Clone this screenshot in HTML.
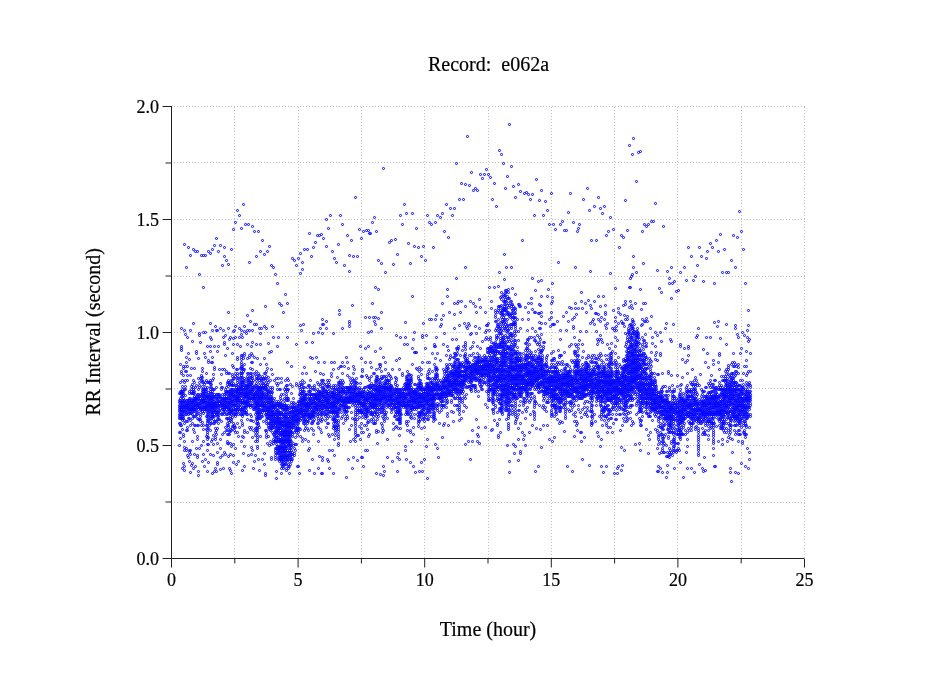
<!DOCTYPE html>
<html><head><meta charset="utf-8">
<style>
html,body{margin:0;padding:0;background:#fff;}
body{width:949px;height:697px;overflow:hidden;position:relative;}
svg{position:absolute;left:0;top:0;will-change:transform;}
text{font-family:"Liberation Serif",serif;fill:#000;stroke:#000;stroke-width:0.2px;}
</style></head><body>
<svg width="949" height="697" viewBox="0 0 949 697">
<path d="M234.5 107V558M298.5 107V558M361.5 107V558M424.5 107V558M488.5 107V558M551.5 107V558M614.5 107V558M677.5 107V558M741.5 107V558M804.5 107V558M171 502.5H805M171 445.5H805M171 388.5H805M171 332.5H805M171 276.5H805M171 219.5H805M171 162.5H805M171 106.5H805" stroke="#c0c0c0" stroke-width="1" stroke-dasharray="1 2" fill="none"/>
<defs><marker id="o" markerUnits="userSpaceOnUse" markerWidth="1" markerHeight="1" overflow="visible"><circle cx="0" cy="0" r="1.05" fill="none" stroke="#00f" stroke-width="1.0" stroke-opacity="1"/></marker></defs><path d="M179.5 393.5l0 7 0 2 0 3 0 2 0 2 0 2 0 3 0 2 0 2 0 5 0 9 0 13 1-7 0-6 0-7 0-2 0-5 0-2 0-2 0-3 0-2 0-2 0-2 0-3 0-2 0-2 0-5 0-2 0-9 0-18 1-36 0 18 0 2 0 2 0 21 0 2 0 18 0 2 0 3 0 6 0 3 0 2 0 2 0 2 0 3 0 4 0 7 1 43 0-39 0-9 0-2 0-2 0-2 0-3 0-4 0-2 0-3 0-2 0-4 0-3 0-2 0-2 0-3 0-6 1-14 0 2 0 7 0 16 0 2 0 2 0 3 0 2 0 2 0 3 0 2 0 2 0 2 0 3 0 2 0 2 0 16 0 2 0 27 1 7 0-4 0-16 0-3 0-6 0-18 0-3 0-9 0-2 0-2 0-2 0-3 0-2 0-11 0-7 0-52 0-86 1 90 0 32 0 5 0 9 0 6 0 3 0 6 0 7 0 3 0 2 0 4 0 3 1 36 0-2 0-18 0-9 0-7 0-2 0-3 0-2 0-2 0-2 0-3 0-29 0-9 0-5 0-90 1 70 0 29 0 9 0 5 0 20 0 3 0 2 0 2 0 2 0 3 0 9 0 6 0 3 0 25 1 2 0-39 0-4 0-5 0-2 0-2 0-2 0-3 0-47 0-106 1 112 0 32 0 2 0 5 0 2 0 2 0 2 0 3 0 2 0 2 0 2 0 5 0 32 0 2 0 9 1 11 0-18 0-4 0-25 0-5 0-7 0-2 0-2 0-2 0-3 0-2 0-4 0-23 0-45 0-75 1 113 0 18 0 3 0 2 0 2 0 7 0 2 0 2 0 3 0 2 0 4 0 52 1-2 0-22 0-18 0-5 0-4 0-3 0-2 0-2 0-2 0-3 0-2 0-7 0-9 0-43 1-92 0 74 0 57 0 7 0 2 0 2 0 2 0 5 0 2 0 2 0 3 0 2 0 2 0 2 0 5 0 13 0 39 1-14 0-22 0-7 0-9 0-5 0-2 0-2 0-2 0-3 0-2 0-2 0-2 0-3 0-2 0-9 0-14 1-117 0 136 0 11 0 2 0 3 0 2 0 2 0 2 0 7 0 9 0 41 1-18 0-34 0-2 0-3 0-4 0-2 0-3 0-2 0-2 0-11 0-32 0-2 1-100 0 143 0 2 0 2 0 2 0 3 0 2 0 2 0 5 0 2 0 4 0 7 0 11 0 3 0 16 0 2 1 18 0-4 0-46 0-6 0-10 0-2 0-2 0-2 0-5 0-4 0-5 0-11 0-20 1-84 0 59 0 2 0 47 0 3 0 2 0 9 0 4 0 3 0 2 0 2 0 12 0 29 1-27 0-2 0-3 0-2 0-2 0-3 0-2 0-4 0-3 0-2 0-2 0-2 0-16 0-36 1-87 0 120 0 2 0 3 0 15 0 5 0 2 0 2 0 3 0 2 0 16 0 20 1 16 0-39 0-11 0-2 0-2 0-3 0-2 0-2 0-2 0-3 0-2 0-2 0-2 0-3 0-4 0-2 0-3 0-6 0-3 1-113 0 32 0 45 0 50 0 7 0 2 0 2 0 2 0 3 0 2 0 2 0 5 0 6 0 12 0 4 0 12 0 13 1 12 0-55 0-2 0-2 0-2 0-3 0-2 0-2 0-2 0-3 0-4 0-5 0-31 1-98 0 77 0 25 0 25 0 5 0 2 0 2 0 2 0 3 0 4 0 2 0 3 0 2 0 2 0 50 1-23 0-7 0-4 0-9 0-7 0-2 0-2 0-3 0-4 0-2 0-5 0-2 0-9 0-7 1-27 0 36 0 5 0 7 0 2 0 2 0 3 0 2 0 2 0 2 0 3 0 2 0 2 0 2 0 3 0 2 0 2 0 2 0 3 0 2 0 2 0 2 0 3 0 2 0 5 0 6 0 21 1-9 0-18 0-7 0-9 0-7 0-2 0-3 0-2 0-2 0-2 0-3 0-2 0-2 0-2 0-3 0-2 0-2 0-2 0-10 0-20 0-2 0-109 1 131 0 14 0 2 0 3 0 2 0 2 0 2 0 3 0 15 1 29 0-24 0-7 0-2 0-3 0-2 0-4 0-3 0-2 0-2 0-2 0-3 0-2 0-2 0-3 0-2 0-2 0-2 0-3 0-2 0-2 0-29 0-5 0-9 0-14 0-70 1 86 0 23 0 22 0 3 0 6 0 3 0 2 0 2 0 3 0 2 0 2 0 2 0 3 0 2 0 2 0 2 0 5 0 18 1 32 0-34 0-23 0-2 0-2 0-3 0-2 0-2 0-2 0-3 0-2 0-2 0-3 0-2 0-2 0-9 0-18 0-5 0-27 0-81 1 125 0 4 0 11 0 7 0 2 0 3 0 2 0 2 0 2 0 3 0 2 0 4 0 3 0 4 0 12 0 9 0 11 1 16 0-48 0-2 0-5 0-2 0-4 0-3 0-2 0-2 0-2 0-5 0-2 0-5 0-20 0-2 0-21 0-101 1 81 0 70 0 2 0 5 0 2 0 2 0 3 0 2 0 9 0 7 0 4 0 5 0 2 0 29 1 3 0-37 0-4 0-9 0-7 0-2 0-2 0-3 0-2 0-2 0-2 0-3 0-4 0-7 0-57 0-92 1 92 0 21 0 43 0 4 0 3 0 2 0 2 0 2 0 5 0 2 0 2 0 3 0 9 0 15 0 9 0 10 0 2 1-41 0-4 0-3 0-2 0-2 0-2 0-3 0-2 0-4 0-3 0-2 0-2 0-48 0-95 1 118 0 25 0 2 0 5 0 2 0 2 0 5 0 9 1 50 0-12 0-9 0-9 0-27 0-4 0-3 0-4 0-3 0-2 0-13 0-55 0-83 1 129 0 13 0 2 0 9 0 3 0 2 0 2 0 9 0 7 1 34 0-21 0-20 0-5 0-2 0-2 0-2 0-3 0-2 0-4 0-7 0-18 0-104 1 65 0 7 0 61 0 2 0 3 0 2 0 2 0 2 0 3 0 56 1-16 0-20 0-18 0-2 0-3 0-2 0-2 0-2 0-3 0-2 0-2 0-2 0-25 0-25 0-2 0-86 0-9 1 88 0 20 0 34 0 2 0 2 0 5 0 2 0 2 0 3 0 2 0 4 0 16 0 27 1-24 0-12 0-4 0-5 0-2 0-2 0-3 0-2 0-2 0-2 0-3 0-2 0-4 0-14 0-2 0-111 1 88 0 34 0 2 0 7 0 7 0 4 0 3 0 2 0 7 0 4 0 5 0 2 0 5 0 4 0 7 0 2 1 13 0-13 0-9 0-7 0-2 0-5 0-2 0-5 0-2 0-2 0-2 0-3 0-2 0-4 0-3 0-2 0-2 0-5 0-4 0-2 0-7 0-45 0-16 0-48 1 75 0 34 0 9 0 2 0 7 0 2 0 2 0 3 0 2 0 2 0 2 0 3 0 2 0 2 0 2 0 9 0 9 0 3 0 34 1 2 0-16 0-11 0-12 0-2 0-9 0-2 0-2 0-3 0-2 0-2 0-2 0-3 0-2 0-2 0-2 0-3 0-2 0-2 0-2 0-5 0-47 1-88 0 131 0 3 0 2 0 4 0 3 0 2 0 2 0 3 0 2 0 4 0 3 0 2 0 2 0 2 0 5 0 2 0 9 0 16 0 27 1-45 0-2 0-9 0-5 0-2 0-5 0-2 0-2 0-2 0-3 0-2 0-2 0-3 0-4 0-5 0-4 0-2 0-9 0-12 1-124 0 102 0 7 0 6 0 23 0 11 0 5 0 2 0 4 0 3 0 2 0 2 0 5 0 2 0 2 0 3 0 2 0 4 0 9 0 3 0 18 0 11 0 7 1-32 0-3 0-2 0-11 0-5 0-4 0-5 0-2 0-2 0-5 0-13 0-48 1-108 0 104 0 11 0 36 0 3 0 9 0 4 0 2 0 3 0 2 0 2 0 2 0 3 0 2 0 2 0 2 0 3 0 2 0 2 0 11 0 5 0 16 1 16 0-50 0-2 0-3 0-4 0-2 0-3 0-2 0-2 0-2 0-3 0-2 0-2 0-2 0-16 1-159 0 134 0 13 0 2 0 10 0 4 0 2 0 3 0 2 0 2 0 7 0 2 0 2 0 3 0 2 0 2 0 2 0 5 0 2 0 2 0 12 0 9 1 29 0-25 0-22 0-5 0-2 0-2 0-3 0-2 0-2 0-2 0-3 0-2 0-2 0-2 0-3 0-6 1-163 0 113 0 9 0 50 0 2 0 4 0 3 0 2 0 2 0 5 0 6 0 16 1-13 0-5 0-2 0-3 0-2 0-2 0-5 0-2 0-2 0-2 0-3 0-2 0-2 0-2 0-3 0-4 0-5 0-22 1-118 0 102 0 4 0 21 0 2 0 2 0 3 0 2 0 2 0 2 0 3 0 2 0 2 0 2 0 3 0 2 0 2 0 2 0 3 0 2 0 2 0 2 0 3 0 4 0 7 0 2 0 3 0 6 0 21 1 29 0-34 0-11 0-2 0-7 0-2 0-3 0-2 0-2 0-3 0-2 0-2 0-7 0-4 0-3 0-2 0-2 0-5 0-4 0-5 0-2 0-11 0-18 1-133 0 154 0 11 0 2 0 9 0 2 0 5 0 2 0 3 0 2 0 2 0 2 0 3 0 2 0 4 0 3 0 4 0 23 0 16 1 13 0-20 0-14 0-2 0-18 0-2 0-3 0-4 0-2 0-3 0-2 0-2 0-2 0-3 0-4 0-3 0-2 0-2 0-9 0-5 0-9 0-2 0-22 0-5 1-102 0 161 0 2 0 2 0 3 0 2 0 2 0 5 0 2 0 2 0 2 0 5 1 2 0-2 0-2 0-3 0-2 0-2 0-2 0-3 0-2 0-2 0-2 0-3 0-2 0-2 0-52 1-18 0 15 0 14 0 14 0 15 0 3 0 2 0 2 0 2 0 3 0 2 0 2 0 3 0 2 0 2 0 2 0 3 0 2 0 2 0 9 0 5 0 13 1 23 0-50 0-2 0-2 0-3 0-2 0-2 0-2 0-3 0-2 0-2 0-3 0-2 0-2 0-5 0-149 1 38 0 68 0 25 0 2 0 23 0 4 0 2 0 5 0 2 0 2 0 3 0 2 0 2 0 3 0 22 1 2 0-9 0-6 0-7 0-2 0-7 0-3 0-2 0-2 0-2 0-3 0-2 0-2 0-5 0-2 0-2 0-5 0-47 1 25 0 7 0 9 0 11 0 4 0 3 0 2 0 2 0 5 0 2 0 2 0 5 0 2 0 5 0 11 0 4 0 7 0 20 0 7 1-4 0-13 0-32 0-2 0-5 0-2 0-2 0-3 0-2 0-2 0-2 0-3 0-4 0-2 0-7 0-7 0-7 0-13 0-12 0-20 0-84 1 154 0 7 0 2 0 5 0 2 0 2 0 2 0 7 0 2 0 12 0 9 0 38 1-7 0-52 0-2 0-4 0-3 0-2 0-2 0-2 0-3 0-4 0-14 0-16 0-33 0-93 1 143 0 11 0 7 0 2 0 2 0 2 0 3 0 2 0 2 0 2 0 7 0 14 0 4 0 3 0 6 0 14 1-25 0-2 0-5 0-4 0-2 0-5 0-2 0-3 0-2 0-2 0-2 0-3 0-4 0-2 0-3 0-2 0-2 0-2 0-3 0-2 0-2 0-5 0-27 0-20 0-68 1 102 0 20 0 9 0 2 0 3 0 2 0 2 0 2 0 3 0 2 0 2 0 2 0 3 0 2 0 2 0 3 0 2 0 2 0 2 0 3 0 2 0 2 0 2 0 3 0 2 0 2 0 2 0 5 0 2 1 11 0-34 0-2 0-5 0-2 0-2 0-2 0-3 0-2 0-2 0-2 0-3 0-2 0-2 0-2 0-3 0-2 0-2 0-9 0-3 0-2 0-142 1 97 0 47 0 5 0 2 0 3 0 2 0 2 0 2 0 3 0 2 0 2 0 2 0 3 0 2 0 4 0 3 0 2 0 2 0 2 0 9 0 43 1-34 0-18 0-6 0-3 0-4 0-2 0-3 0-2 0-2 0-2 0-3 0-2 0-2 0-9 0-14 0-20 0-11 0-82 1 77 0 50 0 2 0 5 0 2 0 2 0 3 0 2 0 2 0 2 0 3 0 4 0 5 0 4 0 2 1 43 0-43 0-4 0-2 0-3 0-2 0-2 0-2 0-3 0-2 0-2 0-2 0-3 0-2 0-4 0-3 0-4 0-136 1 138 0 5 0 2 0 2 0 5 0 2 0 2 0 2 0 3 0 2 0 2 0 2 0 3 0 11 1 43 0-11 0-43 0-3 0-2 0-2 0-5 0-4 0-5 0-2 0-9 0-5 0-15 0-32 0-72 1 52 0 67 0 5 0 2 0 3 0 2 0 2 0 2 0 7 0 2 0 3 0 4 0 2 0 3 0 4 0 16 0 43 0 2 1-38 0-2 0-3 0-2 0-7 0-2 0-2 0-3 0-2 0-2 0-2 0-3 0-2 0-2 0-2 0-3 0-2 0-2 0-2 0-3 0-4 0-9 0-5 0-7 0-36 1-77 0 117 0 12 0 4 0 2 0 3 0 2 0 2 0 2 0 3 0 4 0 5 0 2 0 2 0 3 0 2 0 2 0 25 1-7 0-9 0-2 0-2 0-5 0-4 0-3 0-2 0-2 0-3 0-2 0-2 0-2 0-3 0-2 0-2 0-9 0-5 0-34 1-97 0 106 0 39 0 7 0 2 0 2 0 2 0 3 0 2 0 2 0 3 0 2 0 2 0 5 0 4 0 2 0 16 1-4 0-11 0-2 0-3 0-2 0-2 0-2 0-3 0-2 0-2 0-2 0-3 0-2 0-2 0-2 0-3 0-2 0-4 0-3 0-2 0-7 1-115 0 86 0 18 0 23 0 2 0 2 0 2 0 3 0 2 0 2 0 2 0 3 0 2 0 2 0 2 0 3 0 2 0 2 0 2 0 3 0 16 0 13 0 2 1-27 0-4 0-3 0-4 0-2 0-3 0-2 0-2 0-2 0-3 0-2 0-4 0-3 0-6 0-3 0-2 0-13 0-48 1-59 0 70 0 63 0 3 0 2 0 2 0 2 0 3 0 2 0 2 0 2 0 3 0 2 0 2 0 2 0 7 0 5 0 2 0 2 1-2 0-5 0-2 0-2 0-5 0-4 0-2 0-3 0-4 0-2 0-5 0-2 0-2 0-5 0-18 1-106 0 131 0 2 0 2 0 5 0 2 0 2 0 3 0 2 0 2 0 5 0 2 0 4 0 3 0 2 0 7 0 2 0 2 0 3 0 2 0 2 1 19 0-7 0-18 0-5 0-4 0-3 0-2 0-2 0-2 0-3 0-2 0-2 0-2 0-3 0-2 0-2 0-2 0-3 0-2 0-2 0-5 0-2 0-2 0-18 0-5 1-95 0 63 0 39 0 4 0 14 0 2 0 2 0 3 0 2 0 2 0 3 0 2 0 2 0 2 0 3 0 2 0 2 0 2 0 5 0 4 0 5 0 2 0 2 0 3 1 6 0-2 0-4 0-3 0-2 0-2 0-5 0-2 0-4 0-3 0-2 0-2 0-2 0-3 0-2 0-2 0-2 0-3 0-2 0-2 0-5 0-2 0-2 0-18 0-5 0-41 1-34 0 86 0 14 0 2 0 2 0 5 0 2 0 2 0 2 0 3 0 2 0 2 0 3 0 6 0 5 0 2 0 5 0 2 0 2 0 2 0 3 0 2 0 2 0 2 1-2 0-2 0-2 0-3 0-2 0-2 0-2 0-3 0-2 0-2 0-2 0-3 0-2 0-2 0-2 0-3 0-2 0-2 0-3 0-4 0-2 0-5 0-2 0-2 0-5 0-2 0-7 1-84 0 73 0 4 0 12 0 6 0 3 0 2 0 2 0 5 0 2 0 4 0 3 0 2 0 2 0 3 0 4 0 2 0 5 0 2 0 2 0 3 0 2 0 4 0 3 0 2 0 2 0 2 0 3 0 4 0 5 1-7 0-2 0-3 0-2 0-2 0-2 0-3 0-2 0-2 0-2 0-3 0-2 0-2 0-3 0-2 0-2 0-2 0-3 0-2 0-2 0-2 0-7 0-5 0-2 0-2 1-93 0 82 0 11 0 4 0 3 0 2 0 2 0 2 0 3 0 4 0 5 0 2 0 2 0 2 0 3 0 2 0 2 0 3 0 2 0 2 0 2 0 3 0 2 0 2 0 2 0 3 0 2 0 2 1-4 0-7 0-2 0-3 0-2 0-2 0-2 0-3 0-2 0-2 0-3 0-2 0-2 0-2 0-3 0-2 0-2 0-2 0-3 0-2 0-7 0-2 0-2 0-2 0-3 0-2 0-9 1-95 0 86 0 7 0 4 0 14 0 2 0 2 0 3 0 2 0 2 0 2 0 3 0 2 0 2 0 2 0 3 0 2 0 2 0 2 0 3 0 2 0 2 0 3 0 2 0 2 0 2 0 3 0 2 0 2 0 2 0 3 1 6 0-2 0-4 0-3 0-2 0-2 0-2 0-3 0-4 0-2 0-5 0-2 0-3 0-2 0-2 0-2 0-3 0-2 0-2 0-2 0-3 0-2 0-2 0-2 0-3 0-2 0-2 0-5 0-2 0-2 0-2 0-5 0-4 1-82 0 34 0 25 0 16 0 7 0 4 0 2 0 7 0 2 0 7 0 2 0 9 0 3 0 2 0 2 0 2 0 3 0 2 0 2 0 2 0 3 0 2 0 2 0 3 0 4 0 5 0 2 0 2 1 9 0-2 0-2 0-5 0-4 0-3 0-7 0-2 0-2 0-2 0-3 0-2 0-2 0-2 0-3 0-2 0-2 0-2 0-3 0-2 0-2 0-2 0-3 0-2 0-2 0-5 0-2 0-9 0-9 1 32 0 2 0 4 0 3 0 2 0 2 0 2 0 3 0 2 0 2 0 2 0 3 0 2 0 2 0 2 0 3 0 2 0 2 0 3 0 2 0 4 0 5 0 7 1-9 0-5 0-2 0-2 0-3 0-4 0-3 0-2 0-2 0-2 0-3 0-2 0-2 0-2 0-3 0-2 0-2 0-2 0-5 0-4 0-5 0-23 1-18 0 27 0 9 0 2 0 3 0 2 0 2 0 2 0 3 0 2 0 2 0 3 0 2 0 2 0 2 0 3 0 9 0 4 0 2 0 3 0 4 0 5 0 2 1-2 0-3 0-2 0-2 0-16 0-2 0-2 0-5 0-4 0-3 0-2 0-2 0-3 0-2 0-4 0-21 0-128 1 140 0 4 0 2 0 3 0 2 0 2 0 2 0 3 0 2 0 2 0 3 0 2 0 2 0 16 0 2 1 10 0-2 0-5 0-16 0-7 0-2 0-2 0-2 0-3 0-2 0-2 0-2 0-3 0-2 0-2 0-143 1 147 0 3 0 2 0 2 0 2 0 3 0 2 0 7 0 2 0 7 0 7 0 6 1-6 0-12 0-2 0-2 0-3 0-4 0-2 0-3 0-2 0-4 0-3 0-22 0-2 0-39 0-79 1 138 0 2 0 3 0 2 0 2 0 2 0 3 0 2 0 2 0 2 0 3 0 2 0 2 0 5 0 31 1 0 0-34 0-2 0-2 0-5 0-2 0-2 0-2 0-3 0-2 0-2 0-2 0-3 0-4 0-143 1 127 0 2 0 7 0 7 0 2 0 2 0 5 0 2 0 2 0 3 0 2 0 9 0 45 1-37 0-7 0-9 0-7 0-2 0-2 0-2 0-3 0-2 0-2 0-2 0-3 0-2 0-2 0-2 0-7 0-57 0-52 0-20 1 77 0 54 0 2 0 7 0 5 0 2 0 2 0 2 0 3 0 2 0 2 0 2 0 3 0 2 1 23 0-3 0-22 0-3 0-2 0-2 0-2 0-3 0-2 0-2 0-2 0-3 0-2 0-2 0-2 0-5 0-4 0-7 0-104 0-7 1 62 0 63 0 4 0 5 0 2 0 2 0 3 0 2 0 5 0 2 0 2 0 2 0 3 0 2 0 2 1 7 0-7 0-2 0-2 0-3 0-2 0-4 0-3 0-2 0-2 0-3 0-2 0-2 0-2 0-3 0-4 0-5 0-15 0-118 1 145 0 2 0 2 0 2 0 3 0 2 0 2 0 3 0 2 0 2 0 2 0 3 0 6 0 3 0 11 1-18 0-7 0-2 0-2 0-3 0-2 0-2 0-2 0-3 0-4 0-21 0-31 1-93 0 138 0 7 0 9 0 2 0 2 0 3 0 2 0 2 0 2 0 3 0 2 0 2 0 5 1 22 0-9 0-11 0-9 0-5 0-2 0-4 0-3 0-2 0-2 0-2 0-3 0-7 0-6 1-152 0 152 0 6 0 3 0 2 0 2 0 2 0 3 0 2 0 2 0 2 0 5 0 2 0 2 0 30 0 22 1-52 0-2 0-2 0-2 0-5 0-2 0-2 0-3 0-2 0-4 0-3 0-2 0-2 0-7 0-23 1-101 0 138 0 2 0 4 0 3 0 2 0 4 0 3 0 2 0 2 0 2 0 5 0 5 1 31 0-36 0-2 0-5 0-2 0-2 0-2 0-3 0-4 0-2 0-3 0-4 0-7 0-29 0-16 1-95 0 86 0 56 0 5 0 4 0 3 0 2 0 4 0 3 0 2 0 2 0 2 0 5 0 9 0 4 1 39 0-54 0-3 0-2 0-2 0-2 0-3 0-2 0-2 0-2 0-3 0-2 0-2 0-5 0-2 0-2 1-143 0 129 0 23 0 2 0 2 0 2 0 3 0 2 0 2 0 2 0 3 1-3 0-2 0-2 0-2 0-5 0-2 0-2 0-3 0-34 1-122 0 147 0 7 0 5 0 2 0 2 0 2 0 3 0 2 0 2 0 2 0 3 0 2 0 2 0 7 1 45 0-27 0-14 0-4 0-3 0-2 0-4 0-3 0-2 0-4 0-3 0-2 0-2 0-3 0-2 0-2 0-7 0-22 0-30 1-97 0 156 0 2 0 2 0 3 0 2 0 2 0 3 0 2 0 49 1-27 0-9 0-6 0-3 0-2 0-2 0-2 0-3 0-2 0-2 0-3 0-2 0-2 0-5 0-2 0-11 0-45 1-94 0 146 0 3 0 9 0 2 0 2 0 3 0 4 0 2 0 3 0 2 0 2 0 2 0 3 0 4 0 11 0 41 1 0 0-13 0-3 0-38 0-5 0-2 0-4 0-3 0-2 0-2 0-5 0-2 0-2 0-3 0-2 0-7 0-47 0-9 0-5 1-81 0 86 0 50 0 6 0 3 0 4 0 2 0 3 0 2 0 2 0 3 0 2 0 2 0 2 0 3 1 6 0-3 0-4 0-2 0-5 0-2 0-2 0-5 0-2 0-5 0-22 1 29 0 2 0 3 0 2 0 2 0 2 0 3 0 2 0 4 0 3 0 2 0 4 1 7 0-13 0-5 0-2 0-2 0-3 0-2 0-2 0-2 0-3 0-2 0-5 0-2 0-56 0-7 0-75 0-27 1 161 0 6 0 3 0 4 0 2 0 3 0 2 0 2 0 2 0 3 0 2 0 4 0 5 0 5 0 36 1 2 0-27 0-11 0-7 0-3 0-2 0-4 0-3 0-2 0-2 0-2 0-3 0-2 0-2 0-5 0-4 0-154 1 152 0 4 0 2 0 9 0 3 0 2 0 2 0 2 0 3 0 2 0 2 0 25 0 14 0 18 1-52 0-4 0-5 0-2 0-2 0-2 0-5 0-4 0-3 0-174 1 147 0 11 0 3 0 11 0 5 0 2 0 2 0 2 0 5 0 2 0 2 0 3 0 2 1 38 0-16 0-15 0-7 0-2 0-3 0-2 0-2 0-2 0-3 0-2 0-2 0-2 0-141 1 82 0 36 0 16 0 2 0 2 0 3 0 2 0 2 0 2 0 3 0 2 0 2 0 2 0 3 0 2 0 2 0 3 0 2 0 4 0 3 0 2 0 45 1-18 0-16 0-13 0-5 0-2 0-2 0-5 0-2 0-3 0-2 0-2 0-2 0-3 0-2 0-2 0-2 0-3 0-27 0-104 1 127 0 2 0 7 0 2 0 2 0 3 0 2 0 2 0 2 0 3 0 2 0 2 0 5 0 2 0 2 0 3 0 2 0 2 0 2 0 3 1-6 0-2 0-5 0-2 0-4 0-3 0-2 0-4 0-3 0-2 0-2 0-2 0-3 0-2 0-2 0-2 0-127 1 115 0 12 0 6 0 3 0 2 0 2 0 5 0 2 0 2 0 2 0 3 0 9 1 20 0-2 0-5 0-2 0-2 0-3 0-2 0-2 0-2 0-3 0-2 0-4 0-3 0-2 0-2 0-5 0-2 0-2 0-2 0-3 0-2 0-2 0-2 0-3 0-2 0-2 0-14 0-124 1 66 0 4 0 68 0 2 0 3 0 4 0 2 0 3 0 2 0 2 0 3 0 4 0 2 1 0 0-2 0-2 0-5 0-2 0-2 0-3 0-2 0-4 0-5 0-2 0-14 0-151 1 151 0 18 0 5 0 2 0 5 0 2 0 2 0 3 0 2 0 7 0 6 1-2 0-11 0-3 0-2 0-4 0-3 0-2 0-2 0-2 0-3 0-4 0-7 0-11 0-34 0-104 1 158 0 5 0 2 0 2 0 2 0 5 0 2 0 2 0 3 0 2 0 2 0 14 1-9 0-3 0-2 0-2 0-2 0-3 0-2 0-2 0-7 0-25 0-101 1 122 0 2 0 2 0 2 0 3 0 2 0 2 0 2 0 3 0 2 0 4 0 7 0 2 1 57 0-63 0-3 0-2 0-2 0-2 0-3 0-2 0-2 0-2 0-3 0-6 0-30 1-122 0 127 0 13 0 12 0 2 0 2 0 2 0 5 0 2 0 2 0 5 0 4 0 5 0 2 1 41 0-52 0-5 0-2 0-2 0-2 0-5 0-2 0-2 0-19 1-113 0 16 0 50 0 2 0 3 0 51 0 10 0 2 0 2 0 2 0 3 0 2 0 2 0 2 0 5 0 22 1 12 0-39 0-2 0-2 0-2 0-3 0-2 0-2 0-2 0-3 0-4 1-140 0 142 0 5 0 2 0 4 0 3 0 2 0 2 0 12 0 13 1 43 0-50 0-13 0-3 0-2 0-2 0-2 0-3 0-2 0-4 0-3 0-6 0-73 1-49 0 110 0 7 0 7 0 9 0 2 0 2 0 3 0 2 0 2 0 2 0 37 0 18 1-38 0-16 0-2 0-3 0-2 0-2 0-2 0-3 0-2 0-2 0-3 0-2 0-11 1-172 0 185 0 3 0 2 0 2 0 3 0 2 0 2 0 2 0 3 0 4 0 2 0 3 0 2 0 2 0 2 0 3 0 2 0 2 0 2 0 3 0 2 0 2 0 2 0 3 0 4 1-38 0-2 0-3 0-2 0-2 0-5 0-2 0-5 0-4 1-122 0 127 0 9 0 2 0 2 0 3 0 2 0 4 0 3 0 2 0 2 0 2 0 5 0 16 0 25 1-25 0-25 0-7 0-2 0-2 0-3 0-2 0-2 0-3 1-160 0 158 0 2 0 3 0 2 0 2 0 3 0 2 0 2 0 2 0 3 0 2 0 2 0 5 0 9 1 13 0-27 0-2 0-7 0-2 0-3 0-2 0-2 0-2 0-9 0-37 1-108 0 120 0 18 0 13 0 3 0 2 0 2 0 2 0 5 0 2 0 2 0 3 0 2 0 11 0 5 0 4 0 25 1 0 0-40 0-3 0-2 0-2 0-5 0-2 0-2 0-5 0-2 0-2 0-16 0-5 0-2 1-138 0 158 0 2 0 2 0 3 0 2 0 2 0 3 0 2 0 2 0 5 0 20 0 34 1-41 0-11 0-5 0-2 0-2 0-2 0-3 0-2 0-2 0-3 0-2 0-4 1-70 0 31 0 14 0 25 0 9 0 2 0 2 0 3 0 2 0 4 0 3 0 2 0 2 0 2 0 32 1-25 0-9 0-3 0-2 0-2 0-2 0-3 0-2 0-2 0-2 0-3 0-2 0-18 0-145 1 147 0 9 0 5 0 2 0 2 0 3 0 2 0 7 0 2 0 2 0 2 0 3 0 6 0 7 0 21 1-14 0-14 0-2 0-9 0-2 0-2 0-5 0-2 0-2 0-3 0-2 0-4 0-3 0-40 0-14 0-102 1 3 0 84 0 61 0 2 0 5 0 2 0 5 0 4 0 2 0 5 0 2 0 29 1-20 0-2 0-2 0-3 0-2 0-2 0-2 0-3 0-2 0-2 0-2 0-5 0-2 0-23 0-129 1 98 0 36 0 9 0 7 0 4 0 2 0 3 0 2 0 2 0 2 0 3 0 2 0 2 0 2 0 5 0 2 0 5 0 2 1-7 0-2 0-5 0-2 0-2 0-3 0-4 0-2 0-7 0-2 0-82 0-81 1 95 0 56 0 12 0 4 0 2 0 3 0 2 0 2 0 2 0 3 0 2 0 2 0 9 0 3 0 4 1 0 0-9 0-2 0-3 0-2 0-2 0-2 0-3 0-2 0-2 0-2 0-5 0-4 0-12 0-52 0-104 1 70 0 30 0 7 0 27 0 29 0 2 0 3 0 2 0 2 0 2 0 3 0 2 0 2 0 2 0 3 0 2 0 2 0 5 0 9 0 2 1 50 0-41 0-2 0-14 0-4 0-3 0-4 0-2 0-3 0-2 0-2 0-2 0-3 0-2 0-2 0-5 0-2 0-2 0-2 0-7 0-138 1 145 0 2 0 2 0 5 0 2 0 2 0 2 0 3 0 2 0 2 0 2 0 3 0 2 0 2 0 2 0 5 0 5 0 24 1-12 0-15 0-16 0-2 0-3 0-2 0-2 0-2 0-3 0-2 0-5 0-61 0-29 0-29 1 104 0 4 0 14 0 4 0 3 0 2 0 2 0 2 0 3 0 2 0 2 0 2 0 3 0 2 0 2 0 2 1 61 0-65 0-5 0-2 0-2 0-2 0-3 0-2 0-2 0-2 0-3 0-2 0-2 0-3 0-13 0-2 0-16 1-85 0 49 0 16 0 43 0 5 0 2 0 7 0 2 0 2 0 2 0 3 0 2 0 2 0 2 0 3 0 2 0 2 0 5 0 11 1 9 0-4 0-3 0-9 0-4 0-3 0-2 0-7 0-2 0-2 0-2 0-3 0-4 0-9 1-210 0 189 0 19 0 6 0 3 0 2 0 2 0 2 0 3 0 2 0 2 0 5 0 2 0 2 0 2 0 9 0 12 0 36 0 9 1-4 0-50 0-2 0-5 0-2 0-2 0-5 0-2 0-2 0-3 0-2 0-2 0-2 0-3 0-2 0-2 0-2 0-7 1-104 0 90 0 7 0 11 0 3 0 4 0 2 0 3 0 2 0 2 0 2 0 3 0 13 0 2 1-4 0-5 0-4 0-2 0-3 0-2 0-4 0-3 0-2 0-2 0-2 0-3 0-2 0-2 1 4 0 2 0 2 0 3 0 2 0 5 0 2 0 2 0 2 0 3 0 2 0 13 0 21 0 18 1-52 0-5 0-4 0-2 0-3 0-2 0-2 0-7 0-7 1-131 0 133 0 5 0 2 0 2 0 3 0 2 0 2 0 3 0 2 0 2 0 2 0 3 0 2 0 2 1-2 0-2 0-3 0-2 0-2 0-2 0-3 0-2 0-2 0-2 0-9 1-136 0 138 0 7 0 2 0 2 0 2 0 3 0 2 0 2 0 2 0 3 0 4 0 2 0 3 1 49 0-52 0-4 0-2 0-3 0-2 0-2 0-2 0-3 0-2 0-2 0-18 1-105 0 129 0 2 0 5 0 2 0 2 0 3 0 16 0 6 1-13 0-9 0-3 0-4 0-2 0-3 0-2 0-2 0-2 1-150 0 138 0 5 0 2 0 5 0 2 0 2 0 5 0 2 0 2 0 2 0 3 0 2 0 2 0 3 0 2 0 11 1-1 0-7 0-7 0-5 0-2 0-2 0-2 0-3 0-2 0-2 0-2 0-3 0-2 0-7 0-2 0-18 0-25 1-81 0 131 0 4 0 3 0 4 0 2 0 3 0 2 0 4 0 3 0 2 0 2 0 5 0 38 0 14 1-18 0-25 0-9 0-3 0-4 0-2 0-3 0-2 0-2 0-2 0-3 0-2 0-2 0-2 0-3 1-31 0 11 0 20 0 3 0 2 0 2 0 2 0 3 0 2 0 2 0 3 0 2 0 2 0 2 0 3 0 2 0 2 0 2 0 12 0 24 1-31 0-5 0-2 0-2 0-2 0-3 0-2 0-2 0-2 0-3 0-2 0-2 0-3 0-2 0-2 0-2 0-3 0-52 0-122 1 174 0 3 0 2 0 2 0 2 0 3 0 2 0 2 0 9 1-9 0-3 0-2 0-4 0-3 0-2 0-16 0-2 0-149 1 163 0 2 0 4 0 3 0 2 0 2 0 2 0 3 0 2 1-2 0-3 0-2 0-2 0-2 0-3 0-2 0-2 0-5 0-40 0-140 1 118 0 15 0 46 0 2 0 2 0 2 0 5 0 2 0 2 0 5 0 2 0 2 0 7 0 32 0 4 1 9 0-36 0-2 0-9 0-2 0-3 0-2 0-2 0-2 0-3 0-2 0-2 0-5 0-2 0-2 0-2 0-3 0-2 0-2 0-163 1 131 0 27 0 5 0 2 0 2 0 3 0 2 0 2 0 2 0 3 0 2 0 4 0 3 0 4 0 2 0 3 0 2 0 2 0 11 0 5 1-9 0-7 0-2 0-7 0-2 0-2 0-7 0-2 0-3 0-2 0-2 0-2 0-3 0-6 0-131 1 131 0 6 0 3 0 2 0 2 0 2 0 3 0 2 0 2 0 3 0 2 0 2 0 2 0 3 1 54 0-30 0-2 0-13 0-3 0-4 0-2 0-3 0-4 0-2 0-3 0-2 0-2 0-3 0-4 0-2 0-3 0-2 0-2 0-113 1 112 0 3 0 2 0 2 0 5 0 2 0 2 0 2 0 3 0 2 0 2 0 2 0 3 0 2 0 2 0 3 0 4 0 2 0 23 1-32 0-2 0-2 0-3 0-2 0-2 0-2 0-3 0-2 0-27 0-16 0-52 0-83 1 126 0 50 0 2 0 2 0 3 0 2 0 2 0 2 0 3 0 2 0 20 0 7 0 32 1-48 0-4 0-5 0-2 0-5 0-2 0-2 0-3 0-2 0-2 0-7 0-32 0-20 0-86 1 106 0 32 0 5 0 2 0 2 0 2 0 3 0 2 0 2 0 2 0 3 0 65 1-63 0-2 0-3 0-2 0-2 0-2 0-3 0-2 0-2 0-2 0-21 0-16 0-124 1 141 0 16 0 2 0 5 0 2 0 2 0 2 0 3 0 2 0 2 0 2 0 7 1 12 0-3 0-2 0-2 0-3 0-4 0-5 0-2 0-2 0-2 0-3 0-2 0-2 0-2 0-3 0-2 0-2 0-2 0-5 0-2 0-129 1 120 0 4 0 9 0 3 0 4 0 2 0 5 0 2 0 2 0 3 0 2 0 2 0 2 0 5 0 2 0 2 0 5 0 50 1-52 0-3 0-2 0-2 0-5 0-2 0-4 0-3 0-2 0-2 0-5 0-2 0-2 0-2 0-3 1-124 0 113 0 5 0 9 0 2 0 2 0 2 0 3 0 2 0 2 0 2 0 3 0 2 0 2 0 5 0 2 0 2 0 14 0 34 1 9 0-52 0-7 0-2 0-3 0-2 0-2 0-2 0-3 0-2 0-2 0-5 0-2 0-25 0-25 0-2 1-89 0 77 0 66 0 2 0 2 0 3 0 2 0 2 0 5 0 2 0 2 0 2 0 3 0 2 0 2 1 41 0-32 0-6 0-3 0-4 0-5 0-2 0-2 0-3 0-2 0-2 0-2 0-3 0-4 1-129 0 88 0 39 0 2 0 2 0 2 0 3 0 2 0 2 0 2 0 3 0 9 1 32 0-29 0-5 0-4 0-5 0-2 0-2 0-3 0-2 0-2 0-3 0-2 0-2 0-2 0-48 1-120 0 147 0 12 0 2 0 2 0 5 0 2 0 2 0 2 0 3 0 2 0 2 0 3 0 2 0 2 0 2 0 3 0 2 0 2 0 2 0 5 0 20 0 39 1-59 0-9 0-2 0-3 0-2 0-2 0-2 0-3 0-2 0-2 0-3 0-2 0-2 0-2 0-5 0-7 1-149 0 97 0 43 0 7 0 4 0 5 0 7 0 2 0 2 0 2 0 3 0 2 0 2 0 2 0 5 0 4 0 3 0 4 1-4 0-3 0-2 0-2 0-2 0-3 0-2 0-4 0-3 0-2 0-2 0-5 0-2 1-156 0 95 0 63 0 3 0 2 0 2 0 2 0 3 0 2 0 2 0 2 0 3 0 2 0 2 0 9 1-7 0-4 0-2 0-3 0-2 0-2 0-2 0-3 0-2 0-2 0-3 0-2 0-4 0-7 0-18 1-106 0 137 0 3 0 2 0 2 0 3 0 2 0 2 0 2 0 3 0 2 0 2 0 2 0 3 0 2 0 2 0 2 0 3 1-3 0-2 0-2 0-2 0-5 0-2 0-2 0-3 0-2 0-2 0-2 0-5 0-2 0-3 0-4 0-2 0-14 0-18 0-2 1-122 0 97 0 27 0 12 0 9 0 2 0 5 0 2 0 2 0 5 0 2 0 2 0 2 0 5 0 2 0 2 0 10 0 11 0 25 1-39 0-11 0-2 0-3 0-4 0-2 0-3 0-4 0-2 0-3 0-2 0-2 0-30 0-22 1-100 0 138 0 16 0 5 0 2 0 2 0 5 0 2 0 2 0 2 0 3 0 2 0 4 0 5 0 2 0 3 0 2 0 38 1 9 0-52 0-7 0-2 0-2 0-5 0-2 0-2 0-5 1 2 0 3 0 2 0 2 0 5 0 2 0 2 0 14 0 11 1-20 0-3 0-2 0-2 0-2 0-3 0-2 0-2 0-7 0-20 0-34 0-109 1 102 0 5 0 58 0 3 0 4 0 3 0 2 0 2 0 2 0 3 0 4 0 2 0 3 1 27 0-32 0-4 0-3 0-2 0-2 0-2 0-3 0-2 0-2 0-3 0-79 0-90 1 102 0 29 0 25 0 9 0 2 0 2 0 3 0 2 0 2 0 3 0 2 0 2 0 5 0 4 0 2 0 18 1-2 0-18 0-7 0-4 0-2 0-5 0-2 0-3 0-2 0-4 0-3 0-2 0-38 0-102 1 147 0 2 0 2 0 3 0 2 0 2 0 3 0 2 0 2 1 11 0-4 0-2 0-3 0-2 0-2 0-2 0-3 0-2 0-2 0-5 0-2 0-2 0-3 0-2 0-2 0-2 0-3 0-9 0-151 1 85 0 7 0 50 0 20 0 2 0 3 0 4 0 2 0 3 0 2 0 2 0 2 0 3 0 2 0 2 0 2 0 5 0 2 0 11 0 3 1 9 0-30 0-2 0-2 0-2 0-3 0-2 0-2 0-2 0-3 0-2 0-7 0-18 0-113 1 75 0 47 0 5 0 9 0 2 0 2 0 3 0 2 0 2 0 2 0 3 0 2 0 2 1 2 0-2 0-2 0-5 0-2 0-2 0-2 0-7 0-2 0-14 0-2 0-147 1 156 0 7 0 2 0 2 0 2 0 3 0 2 0 2 0 2 0 3 0 2 0 2 0 2 0 5 0 2 0 9 1-16 0-6 0-3 0-2 0-2 0-5 0-2 0-2 0-2 0-3 0-2 0-27 0-124 1 142 0 9 0 7 0 2 0 3 0 2 0 2 0 2 0 3 0 2 0 2 0 2 0 3 0 16 0 9 1-16 0-7 0-9 0-2 0-3 0-2 0-2 0-2 0-3 0-2 0-2 0-2 0-3 0-2 0-2 0-5 0-4 0-25 0-14 0-11 0-95 1 145 0 2 0 5 0 2 0 2 0 2 0 3 0 2 0 2 0 2 0 3 0 2 0 2 0 2 0 3 0 2 0 2 0 7 1 7 0-12 0-2 0-2 0-3 0-2 0-2 0-2 0-3 0-2 0-2 0-2 0-3 0-9 0-4 0-7 0-9 0-61 0-115 1 140 0 45 0 2 0 3 0 6 0 7 0 2 0 3 0 2 0 2 0 2 0 3 0 4 0 2 0 3 0 2 0 2 0 3 0 2 0 7 0 4 1-20 0-5 0-2 0-2 0-3 0-2 0-2 0-2 0-3 0-2 0-2 0-2 0-3 0-11 0-2 0-45 1-102 0 126 0 37 0 2 0 2 0 2 0 3 0 2 0 2 0 2 0 5 0 2 0 2 0 3 0 2 0 2 0 3 0 2 0 2 0 2 0 3 0 2 0 2 0 2 0 3 0 6 1-22 0-5 0-2 0-5 0-2 0-2 0-2 0-3 0-2 0-2 0-2 0-3 0-2 0-2 0-9 0-43 1-129 0 118 0 63 0 7 0 4 0 5 0 2 0 2 0 2 0 3 0 2 0 27 1-16 0-2 0-2 0-5 0-4 0-2 0-3 0-2 0-2 0-3 0-2 0-4 0-5 0-4 0-12 1-151 0 147 0 18 0 2 0 5 0 4 0 2 0 3 0 2 0 2 0 3 0 4 0 20 1-6 0-9 0-12 0-2 0-2 0-3 0-2 0-2 0-2 0-3 0-2 0-9 0-2 0-32 1-139 0 83 0 39 0 36 0 2 0 2 0 3 0 4 0 2 0 3 0 2 0 2 0 3 0 2 0 2 0 2 0 3 0 2 0 2 0 2 0 5 0 13 0 46 1-37 0-13 0-7 0-7 0-2 0-2 0-2 0-3 0-2 0-2 0-5 0-2 0-34 1-190 0 192 0 30 0 2 0 2 0 3 0 2 0 2 0 2 0 3 0 2 0 2 0 9 1 54 0-55 0-4 0-5 0-2 0-7 0-2 0-2 0-2 0-39 1-138 0 140 0 30 0 7 0 4 0 2 0 3 0 2 0 4 0 3 0 6 1 73 0-70 0-3 0-4 0-2 0-3 0-2 0-2 0-2 0-3 0-2 0-2 0-16 0-14 0-33 1-129 0 161 0 22 0 11 0 3 0 2 0 2 0 2 0 3 0 2 0 2 0 3 0 2 0 2 0 2 1 50 0-11 0-45 0-5 0-2 0-3 0-2 0-2 0-2 0-3 0-2 0-18 1-156 0 113 0 39 0 11 0 7 0 4 0 2 0 3 0 2 0 4 0 3 0 7 1 2 0-2 0-7 0-2 0-3 0-2 0-2 0-2 0-3 0-7 1-169 0 118 0 20 0 31 0 5 0 2 0 3 0 2 0 2 0 2 0 3 0 2 0 2 0 5 0 2 0 2 0 2 1 28 0-39 0-2 0-5 0-2 0-2 0-2 0-3 0-2 0-2 0-27 0-21 1-122 0 156 0 7 0 4 0 3 0 2 0 2 0 2 0 3 0 2 0 2 0 5 0 56 0 7 1-5 0-9 0-31 0-5 0-11 0-5 0-2 0-2 0-2 0-3 0-4 0-2 0-3 1-58 0 29 0 27 0 2 0 3 0 2 0 2 0 2 0 3 0 2 0 2 0 5 0 2 0 2 0 2 0 59 1-57 0-4 0-2 0-3 0-2 0-2 0-3 0-2 0-2 0-5 0-13 0-41 0-133 1 185 0 2 0 3 0 2 0 2 0 2 0 3 0 2 0 5 0 6 0 3 1 0 0-5 0-9 0-2 0-3 0-2 0-2 0-5 0-2 0-2 0-16 0-163 1 183 0 3 0 2 0 2 0 2 0 3 0 2 0 2 0 2 0 3 1 0 0-7 0-2 0-3 0-2 0-2 0-2 0-3 0-2 0-4 0-181 1 138 0 20 0 7 0 18 0 2 0 2 0 3 0 2 0 2 0 2 0 3 0 9 0 22 0 23 1-36 0-7 0-7 0-2 0-2 0-3 0-4 0-2 0-3 0-2 0-2 0-20 0-7 0-5 0-156 1 156 0 23 0 2 0 2 0 9 0 3 0 2 0 2 0 2 0 3 0 2 0 5 0 27 1-7 0-2 0-3 0-2 0-2 0-2 0-3 0-2 0-2 0-2 0-3 0-2 0-2 0-3 0-2 0-2 0-2 0-3 0-4 0-5 0-4 0-9 0-16 0-149 1 113 0 43 0 18 0 3 0 4 0 5 0 2 0 2 0 2 0 3 0 2 0 2 0 3 0 2 0 2 0 2 0 3 0 4 0 2 0 9 1-2 0-9 0-2 0-2 0-5 0-2 0-2 0-3 0-2 0-2 0-3 0-2 0-4 0-3 0-4 0-2 0-3 0-2 0-7 0-2 0-160 1 124 0 7 0 34 0 4 0 2 0 3 0 6 0 3 0 2 0 2 0 2 0 3 0 2 0 5 0 4 0 9 0 41 1-1 0-20 0-7 0-2 0-2 0-3 0-2 0-2 0-2 0-3 0-2 0-2 0-3 0-2 0-4 0-3 0-2 0-2 0-2 0-3 0-4 0-5 0-2 0-2 0-149 1 144 0 3 0 4 0 2 0 3 0 4 0 2 0 5 0 2 0 2 0 3 0 2 0 2 0 2 0 5 0 2 0 3 0 2 0 2 0 2 0 3 0 2 0 2 0 2 0 5 0 2 0 2 1 7 0-27 0-2 0-2 0-5 0-2 0-3 0-2 0-2 0-2 0-3 0-2 0-2 0-2 0-5 0-2 0-2 0-3 0-2 0-4 0-3 0-56 0-104 1 127 0 2 0 3 0 2 0 4 0 9 0 12 0 2 0 4 0 3 0 2 0 2 0 3 0 2 0 2 0 2 0 3 0 2 0 2 0 2 0 3 0 2 0 2 0 2 0 3 0 2 0 2 0 2 0 3 0 11 0 2 1-7 0-13 0-2 0-3 0-2 0-4 0-5 0-2 0-5 0-2 0-2 0-2 0-7 0-3 0-2 0-2 0-5 0-2 0-2 0-7 0-7 0-115 1 106 0 12 0 2 0 4 0 7 0 9 0 5 0 2 0 5 0 2 0 2 0 5 0 2 0 2 0 5 0 2 0 2 0 2 0 3 0 2 0 4 0 3 0 2 0 2 0 14 0 11 0 2 1 12 0-2 0-34 0-2 0-10 0-2 0-4 0-3 0-2 0-2 0-2 0-3 0-2 0-2 0-2 0-3 0-11 0-4 0-3 0-9 0-4 0-5 0-2 0-5 0-9 0-2 0-2 0-20 1-136 0 122 0 34 0 22 0 5 0 11 0 3 0 6 0 5 0 2 0 5 0 4 0 2 0 3 0 2 0 2 0 2 0 5 0 2 0 7 0 5 0 4 0 5 0 2 0 9 1 13 0-22 0-2 0-5 0-4 0-3 0-2 0-5 0-4 0-2 0-3 0-2 0-2 0-2 0-3 0-2 0-2 0-2 0-3 0-9 0-2 0-4 0-3 0-2 0-2 0-2 0-5 0-2 0-3 0-2 0-4 0-9 0-3 0-4 0-9 1-143 0 138 0 4 0 3 0 6 0 7 0 2 0 3 0 6 0 7 0 3 0 9 0 2 0 2 0 7 0 2 0 2 0 3 0 2 0 2 0 2 0 3 0 2 0 2 0 2 0 3 0 2 0 2 0 3 0 2 0 2 0 2 0 3 0 2 0 2 0 2 0 3 0 2 0 2 0 2 0 3 1 2 0-2 0-3 0-2 0-2 0-2 0-3 0-2 0-2 0-2 0-3 0-2 0-2 0-2 0-3 0-4 0-3 0-2 0-2 0-2 0-3 0-2 0-2 0-2 0-3 0-2 0-4 0-3 0-2 0-4 0-3 0-2 0-2 0-9 0-5 0-2 0-5 0-2 0-2 0-2 1-145 0 131 0 2 0 5 0 7 0 2 0 4 0 3 0 4 0 2 0 7 0 7 0 2 0 3 0 4 0 2 0 3 0 2 0 2 0 2 0 3 0 2 0 2 0 2 0 3 0 2 0 4 0 3 0 2 0 5 0 2 0 2 0 2 0 3 0 2 1 5 0-7 0-2 0-3 0-4 0-2 0-3 0-2 0-2 0-2 0-3 0-2 0-4 0-3 0-4 0-2 0-3 0-4 0-3 0-2 0-2 0-2 0-12 0-2 0-4 0-3 0-4 0-5 0-2 0-2 0-2 0-3 0-4 0-2 0-16 0-25 1-66 0 102 0 2 0 3 0 4 0 2 0 3 0 4 0 2 0 9 0 5 0 4 0 7 0 2 0 7 0 5 0 2 0 2 0 3 0 2 0 2 0 2 0 3 0 4 0 2 0 3 0 2 0 2 0 2 0 3 0 2 0 2 0 2 0 3 0 2 0 2 0 2 0 3 0 2 0 2 0 3 0 2 1 9 0-9 0-2 0-3 0-2 0-2 0-3 0-2 0-2 0-2 0-3 0-2 0-2 0-2 0-5 0-2 0-5 0-4 0-2 0-3 0-2 0-4 0-3 0-7 0-4 0-11 0-5 0-4 0-9 0-3 0-2 0-7 0-9 0-2 0-23 1-91 0 120 0 2 0 7 0 7 0 2 0 5 0 6 0 3 0 2 0 2 0 5 0 4 0 5 0 2 0 2 0 3 0 4 0 11 0 3 0 2 0 2 0 2 0 3 0 2 0 2 0 2 0 3 0 2 0 2 0 2 0 3 0 4 0 43 1-16 0-2 0-2 0-2 0-5 0-2 0-2 0-3 0-2 0-2 0-2 0-3 0-2 0-2 0-3 0-2 0-2 0-2 0-3 0-2 0-2 0-2 0-3 0-2 0-2 0-2 0-3 0-2 0-2 0-5 0-2 0-4 0-5 0-2 0-7 0-2 0-7 0-5 0-11 0-2 0-5 0-4 0-5 0-6 0-3 1-165 0 174 0 7 0 9 0 2 0 12 0 6 0 7 0 7 0 7 0 4 0 3 0 4 0 2 0 3 0 2 0 2 0 2 0 3 0 6 0 3 0 2 0 2 0 2 0 3 0 2 0 2 0 3 0 4 0 2 0 3 0 47 0 11 1-71 0-3 0-6 0-5 0-2 0-2 0-3 0-2 0-2 0-2 0-3 0-2 0-2 0-2 0-3 0-2 0-2 0-3 0-2 0-2 0-2 0-3 0-9 0-2 0-2 0-9 0-7 0-2 0-14 1-135 0 101 0 34 0 3 0 2 0 2 0 5 0 11 0 2 0 2 0 5 0 2 0 5 0 4 0 2 0 3 0 2 0 2 0 2 0 3 0 2 0 2 0 3 0 2 0 2 0 2 0 3 0 2 0 2 0 2 0 3 0 4 0 2 0 3 0 2 0 11 1 9 0-2 0-2 0-3 0-2 0-4 0-3 0-2 0-2 0-2 0-3 0-2 0-2 0-2 0-3 0-2 0-2 0-2 0-5 0-2 0-2 0-3 0-2 0-2 0-3 0-6 0-7 0-7 0-11 0-5 0-2 0-2 0-2 0-3 0-6 0-16 1-102 0 120 0 4 0 7 0 5 0 2 0 13 0 9 0 3 0 4 0 2 0 7 0 5 0 2 0 2 0 5 0 2 0 2 0 3 0 4 0 2 0 5 0 2 0 2 0 46 1 9 0-57 0-2 0-2 0-3 0-2 0-2 0-2 0-3 0-2 0-2 0-2 0-3 0-2 0-2 0-2 0-3 0-4 0-5 0-2 0-5 0-2 0-4 0-7 0-2 0-7 0-2 0-5 0-4 0-5 1-111 0 97 0 14 0 2 0 3 0 4 0 2 0 3 0 2 0 2 0 2 0 7 0 5 0 2 0 2 0 7 0 2 0 5 0 2 0 2 0 3 0 2 0 2 0 5 0 2 0 2 0 2 0 3 0 2 0 4 0 5 0 2 0 2 0 3 0 2 0 2 0 2 0 3 0 2 0 2 0 2 0 5 0 2 0 23 1-27 0-21 0-2 0-4 0-3 0-2 0-2 0-2 0-3 0-2 0-2 0-2 0-3 0-2 0-4 0-3 0-2 0-2 0-2 0-3 0-22 1-12 0 28 0 4 0 2 0 3 0 2 0 2 0 2 0 3 0 2 0 2 0 2 0 3 0 2 0 2 0 2 0 3 0 2 0 4 0 9 0 19 1 43 0-21 0-11 0-14 0-4 0-16 0-2 0-3 0-2 0-2 0-2 0-3 0-2 0-2 0-2 0-3 0-4 0-2 0-5 0-2 0-18 0-9 0-27 0-120 1 120 0 2 0 47 0 3 0 4 0 2 0 3 0 2 0 2 0 2 0 3 0 2 0 4 0 3 0 4 0 2 0 3 0 2 0 2 0 9 0 5 1 43 0-2 0-28 0-22 0-5 0-2 0-2 0-3 0-2 0-4 0-3 0-2 0-2 0-2 0-3 0-2 0-2 0-2 0-5 0-2 0-5 0-25 0-22 0-115 1 165 0 2 0 2 0 2 0 3 0 2 0 2 0 2 0 3 0 2 0 2 0 2 0 3 0 2 0 2 0 2 0 3 0 2 0 2 1 36 0-20 0-20 0-3 0-2 0-4 0-3 0-2 0-2 0-5 0-4 0-3 0-45 0-79 1 113 0 11 0 3 0 2 0 5 0 2 0 2 0 2 0 3 0 2 0 2 0 2 0 9 0 3 0 2 0 2 0 34 1-4 0-34 0-3 0-9 0-2 0-4 0-3 0-2 0-2 0-2 0-5 0-2 0-3 0-4 0-2 0-165 1 114 0 36 0 7 0 5 0 2 0 2 0 3 0 2 0 2 0 2 0 3 0 2 0 2 0 5 0 2 0 2 0 2 0 3 0 2 0 11 0 7 0 9 0 27 1-34 0-13 0-3 0-2 0-2 0-2 0-3 0-2 0-2 0-2 0-5 0-2 0-2 0-3 0-2 0-2 0-5 0-2 0-2 0-7 0-5 0-151 1 138 0 9 0 2 0 5 0 2 0 2 0 3 0 2 0 4 0 3 0 2 0 2 0 2 0 3 0 2 0 2 0 2 0 3 0 2 0 2 0 2 0 3 0 2 0 2 0 2 0 5 0 7 1-11 0-3 0-6 0-3 0-2 0-4 0-3 0-2 0-2 0-2 0-5 0-2 0-5 0-18 0-20 0-7 0-9 0-109 1 143 0 7 0 6 0 5 0 2 0 5 0 2 0 2 0 3 0 2 0 2 0 2 0 3 0 2 0 2 0 2 0 5 0 13 0 30 1-18 0-14 0-4 0-3 0-4 0-2 0-3 0-2 0-2 0-2 0-3 0-2 0-2 0-2 0-3 0-4 0-5 0-4 0-154 1 99 0 5 0 34 0 15 0 3 0 4 0 2 0 3 0 2 0 5 0 2 0 2 0 2 0 3 0 2 0 2 0 2 0 7 0 5 1 27 0-32 0-7 0-2 0-2 0-2 0-3 0-2 0-2 0-2 0-3 0-2 0-2 0-5 0-2 0-29 0-19 0-31 0-84 1 161 0 2 0 2 0 2 0 3 0 2 0 2 0 3 0 2 0 2 0 2 0 3 0 2 0 2 0 27 1 8 0-3 0-2 0-2 0-5 0-2 0-2 0-2 0-3 0-2 0-7 0-4 0-3 0-2 0-2 0-2 0-3 0-2 0-2 0-2 0-7 0-20 0-3 0-25 0-97 1 75 0 22 0 19 0 9 0 11 0 4 0 5 0 4 0 3 0 2 0 2 0 2 0 3 0 2 0 2 0 7 0 14 0 70 1-43 0-25 0-14 0-4 0-3 0-2 0-2 0-2 0-3 0-2 0-2 0-2 0-5 0-2 0-2 0-16 0-163 1 156 0 9 0 14 0 4 0 3 0 2 0 4 0 3 0 2 0 2 0 2 0 3 0 2 0 2 1 79 0-74 0-3 0-2 0-2 0-2 0-5 0-2 0-2 0-3 0-2 0-4 0-3 0-4 0-2 0-7 0-36 0-32 1-81 0 104 0 9 0 9 0 6 0 9 0 5 0 2 0 9 0 3 0 2 0 2 0 2 0 3 0 4 0 2 0 3 0 2 0 2 0 2 0 3 0 2 0 2 0 5 0 13 1 24 0-40 0-3 0-2 0-2 0-5 0-2 0-2 0-3 0-2 0-2 0-2 0-3 0-2 0-2 0-5 0-2 0-4 0-7 0-11 0-23 1-115 0 90 0 16 0 16 0 4 0 7 0 11 0 16 0 2 0 7 0 2 0 3 0 2 0 2 0 2 0 3 0 2 0 2 0 5 0 2 0 7 0 56 1-40 0-16 0-5 0-2 0-2 0-2 0-3 0-2 0-2 0-3 0-2 0-2 0-2 0-3 0-2 0-2 0-2 0-5 1-135 0 127 0 4 0 2 0 18 0 3 0 2 0 2 0 2 0 3 0 2 0 2 0 3 0 2 0 2 0 2 0 3 0 2 0 4 0 5 0 20 1-16 0-11 0-4 0-3 0-4 0-2 0-3 0-2 0-2 0-3 0-4 0-2 0-5 0-22 1-141 0 122 0 41 0 2 0 5 0 2 0 2 0 3 0 4 0 3 0 2 0 2 0 2 0 3 0 13 1 4 0-9 0-9 0-2 0-2 0-2 0-5 0-2 0-2 0-3 0-2 0-2 0-5 0-2 0-2 0-3 0-2 1-147 0 86 0 59 0 11 0 2 0 3 0 7 0 2 0 2 0 2 0 3 0 2 0 2 0 2 0 3 0 4 0 2 0 23 1-23 0-9 0-4 0-2 0-3 0-2 0-2 0-2 0-3 0-2 0-2 0-82 1-65 0 95 0 50 0 2 0 5 0 2 0 2 0 2 0 3 0 2 0 2 0 3 0 2 0 4 0 41 1-43 0-4 0-3 0-4 0-3 0-2 0-2 0-2 0-3 0-6 0-41 1-133 0 110 0 9 0 5 0 36 0 7 0 4 0 3 0 4 0 5 0 2 0 2 0 2 0 3 0 2 0 2 0 3 0 2 0 2 0 2 0 3 0 4 0 5 0 2 0 2 0 2 1 25 0-27 0-7 0-2 0-2 0-3 0-4 0-2 0-3 0-2 0-4 0-3 0-2 0-2 0-2 0-5 0-11 0-36 0-23 0-4 0-14 1-59 0 100 0 27 0 7 0 6 0 3 0 4 0 2 0 3 0 2 0 2 0 2 0 3 0 4 0 2 0 3 0 2 0 2 0 2 0 5 1 32 0-21 0-9 0-2 0-7 0-2 0-2 0-3 0-2 0-2 0-2 0-3 0-2 0-2 0-2 0-3 0-2 0-4 0-7 0-2 0-34 1-95 0 138 0 2 0 2 0 2 0 3 0 4 0 2 0 3 0 2 0 2 0 2 0 3 0 2 0 2 0 2 0 3 0 2 0 2 0 2 0 3 1 2 0-2 0-3 0-2 0-2 0-7 0-4 0-5 0-2 0-2 0-3 0-2 0-2 0-2 0-3 0-2 0-4 0-3 1-43 0 41 0 7 0 2 0 2 0 3 0 2 0 2 0 2 0 3 0 2 0 7 0 2 0 2 0 2 0 19 1-12 0-5 0-2 0-2 0-2 0-3 0-4 0-2 0-3 0-2 0-2 0-2 0-3 0-2 0-9 0-14 0-88 1 93 0 2 0 5 0 9 0 4 0 3 0 2 0 4 0 3 0 2 0 2 0 7 0 4 0 3 0 2 0 2 0 2 0 12 1-2 0-10 0-2 0-2 0-5 0-2 0-2 0-2 0-3 0-2 0-2 0-2 0-3 0-2 0-2 0-2 0-3 0-20 0-16 0-9 0-106 1 131 0 9 0 6 0 5 0 2 0 2 0 3 0 2 0 2 0 3 0 4 0 2 0 3 0 2 0 2 0 5 1 15 0-22 0-2 0-3 0-2 0-2 0-2 0-3 0-2 0-2 0-3 0-2 0-4 0-12 0-140 1 95 0 48 0 9 0 2 0 2 0 2 0 3 0 2 0 2 0 3 0 2 0 4 0 9 0 3 1 24 0-27 0-6 0-5 0-2 0-2 0-5 0-2 0-3 0-2 0-2 0-5 0-2 0-16 0-122 1 138 0 2 0 3 0 2 0 2 0 2 0 3 0 2 0 2 0 3 0 2 0 2 0 2 0 3 0 2 0 2 0 2 0 3 0 2 0 2 0 2 0 3 0 2 1-23 0-2 0-2 0-2 0-3 0-2 0-2 0-3 0-2 0-2 0-2 0-7 0-2 0-34 0-18 0-82 1 134 0 7 0 2 0 2 0 2 0 3 0 2 0 2 0 2 0 3 0 2 0 2 0 3 0 6 0 64 1-57 0-13 0-3 0-2 0-5 0-2 0-2 0-2 0-3 0-2 0-2 0-2 0-50 0-109 1 95 0 39 0 20 0 5 0 2 0 2 0 2 0 3 0 2 0 2 0 2 0 3 0 2 0 2 0 3 0 6 0 9 1-6 0-2 0-2 0-5 0-2 0-5 0-2 0-2 0-2 0-3 0-2 0-2 0-2 0-3 0-2 0-176 1 115 0 36 0 16 0 16 0 2 0 2 0 3 0 2 0 4 0 3 0 2 0 7 0 2 0 7 1 61 0-64 0-9 0-2 0-2 0-2 0-3 0-2 0-2 0-2 0-3 0-2 0-2 0-5 0-9 0-43 1-97 0 104 0 2 0 50 0 2 0 2 0 2 0 3 0 2 0 2 0 5 0 2 0 5 0 11 1 22 0-15 0-16 0-5 0-2 0-7 0-2 0-2 0-3 0-2 0-4 0-3 0-2 0-2 0-2 0-3 0-4 0-2 0-7 0-2 0-14 0-20 1-50 0 36 0 5 0 36 0 7 0 2 0 2 0 7 0 2 0 2 0 5 0 2 0 2 0 3 0 2 0 7 0 2 0 2 0 5 0 16 0 4 1 9 0-4 0-21 0-4 0-3 0-2 0-2 0-2 0-3 0-2 0-2 0-2 0-3 0-2 0-2 0-5 0-2 0-4 0-14 0-32 1-83 0 120 0 4 0 2 0 3 0 2 0 2 0 2 0 3 0 2 0 2 0 2 0 3 0 2 0 2 0 2 0 3 0 2 0 2 0 2 0 3 0 27 0 7 1-21 0-4 0-7 0-5 0-2 0-2 0-2 0-5 0-2 0-7 0-2 0-2 0-3 0-2 0-2 0-7 0-7 0-4 0-36 0-80 1-4 0 116 0 20 0 11 0 3 0 2 0 2 0 2 0 3 0 2 0 2 0 5 0 2 0 2 0 2 1 34 0-20 0-14 0-2 0-4 0-3 0-2 0-2 0-2 0-5 0-2 0-2 0-3 0-4 0-36 1-39 0 9 0 68 0 2 0 3 0 2 0 2 0 2 0 3 0 2 0 2 0 2 0 3 0 2 0 4 0 19 0 15 0 9 1 18 0-50 0-11 0-2 0-2 0-3 0-2 0-2 0-2 0-3 0-2 0-2 0-3 0-2 0-2 0-2 0-5 0-7 0-13 0-36 1-109 0 152 0 15 0 7 0 2 0 3 0 2 0 2 0 3 0 2 0 2 0 2 0 3 0 2 1 41 0-23 0-7 0-4 0-7 0-2 0-3 0-2 0-2 0-2 0-3 0-2 0-2 0-3 0-4 0-2 1-66 0 59 0 2 0 3 0 2 0 2 0 2 0 3 0 2 0 2 0 3 0 2 0 2 0 2 0 5 0 2 0 5 0 11 1 2 0-20 0-5 0-2 0-2 0-2 0-3 0-2 0-2 0-3 0-2 0-2 0-2 0-3 0-2 0-4 0-27 0-19 1-124 0 176 0 3 0 4 0 2 0 3 0 2 0 2 0 3 0 2 0 2 0 2 0 5 0 7 0 6 0 3 0 6 1-21 0-2 0-2 0-5 0-2 0-2 0-2 0-3 0-2 0-2 0-3 0-2 0-2 0-2 0-7 0-2 0-55 1-90 0 156 0 7 0 2 0 2 0 3 0 4 0 2 0 3 0 4 0 9 0 63 1-54 0-13 0-3 0-4 0-5 0-2 0-2 0-2 0-3 0-2 0-2 0-3 0-9 0-38 0-18 0-34 1-31 0 68 0 49 0 5 0 7 0 4 0 2 0 3 0 2 0 2 0 2 0 3 0 2 0 2 0 2 0 3 0 2 0 4 0 3 0 2 0 2 0 2 0 5 0 5 0 2 0 2 1-2 0-5 0-2 0-2 0-3 0-6 0-5 0-2 0-2 0-3 0-2 0-2 0-2 0-3 0-2 0-2 0-2 0-3 0-2 0-2 0-9 0-3 0-4 0-34 1-2 0 47 0 3 0 2 0 2 0 2 0 5 0 2 0 2 0 3 0 2 0 2 0 2 1 21 0-22 0-3 0-2 0-2 0-2 0-5 0-4 0-3 0-2 0-7 0-7 0-31 0-23 0-95 1 107 0 45 0 4 0 5 0 4 0 3 0 4 0 2 0 3 0 2 0 2 0 5 0 4 0 25 1-16 0-4 0-3 0-4 0-2 0-3 0-2 0-2 0-2 0-3 0-2 0-2 0-2 0-9 0-3 0-4 0-27 0-18 0-73 1 99 0 5 0 20 0 2 0 2 0 5 0 2 0 5 0 2 0 2 0 2 0 3 0 2 0 2 0 3 0 2 0 34 1 4 0-36 0-2 0-2 0-3 0-2 0-2 0-3 0-2 0-2 0-2 0-3 0-2 0-2 0-2 0-3 0-2 0-7 0-4 0-14 0-22 0-5 0-18 0-99 1 142 0 18 0 9 0 2 0 3 0 2 0 4 0 3 0 2 0 2 0 2 0 3 0 2 0 2 0 3 0 20 1 30 0-41 0-2 0-2 0-3 0-2 0-2 0-3 0-4 0-2 0-3 0-2 0-2 0-2 0-3 0-6 0-14 0-18 0-14 0-15 0-98 1 109 0 22 0 16 0 5 0 4 0 7 0 2 0 3 0 4 0 2 0 3 0 2 0 2 0 2 0 5 0 2 0 3 0 4 0 2 0 3 0 2 0 2 0 2 0 3 0 20 0 27 1-41 0-15 0-9 0-3 0-2 0-2 0-3 0-2 0-2 0-5 0-2 0-4 0-3 0-2 0-2 0-27 0-129 1 83 0 66 0 4 0 2 0 3 0 2 0 2 0 2 0 3 0 2 0 2 0 2 0 3 0 2 0 2 0 2 0 3 0 2 0 7 0 2 0 2 0 3 0 58 1-52 0-4 0-5 0-2 0-2 0-5 0-7 0-2 0-2 0-2 0-3 0-2 0-2 0-2 0-3 0-2 0-2 0-2 0-3 0-2 0-47 0-113 1 99 0 7 0 2 0 11 0 30 0 13 0 3 0 2 0 2 0 2 0 3 0 2 0 2 0 2 0 5 0 2 0 2 0 3 0 4 0 3 0 2 0 2 0 7 1 50 0-41 0-2 0-7 0-9 0-7 0-2 0-2 0-3 0-2 0-2 0-2 0-3 0-2 0-2 0-3 0-2 0-11 0-5 0-31 0-93 1 88 0 21 0 27 0 2 0 2 0 2 0 3 0 2 0 2 0 3 0 2 0 2 0 2 0 3 0 2 0 2 0 5 0 4 0 5 0 4 0 14 1-5 0-7 0-6 0-3 0-2 0-4 0-5 0-2 0-2 0-3 0-2 0-2 0-2 0-3 0-2 0-2 0-3 0-2 0-2 0-2 0-3 0-2 0-2 0-5 0-4 0-124 1 117 0 14 0 2 0 2 0 9 0 2 0 3 0 2 0 2 0 2 0 3 0 2 0 2 0 5 0 2 0 9 0 2 0 3 1 13 0-9 0-7 0-11 0-2 0-3 0-2 0-2 0-2 0-3 0-2 0-2 0-2 0-3 0-2 0-2 0-2 0-3 0-6 0-3 0-2 0-4 0-80 0-56 1 126 0 10 0 2 0 2 0 2 0 3 0 2 0 4 0 3 0 2 0 2 0 2 0 3 0 2 0 2 0 2 0 3 0 2 0 2 0 2 0 3 0 2 0 2 0 7 0 9 1 14 0-18 0-7 0-4 0-5 0-2 0-2 0-3 0-2 0-2 0-3 0-2 0-2 0-2 0-3 0-2 0-2 0-7 0-13 0-23 1-99 0 81 0 52 0 18 0 2 0 2 0 3 0 2 0 2 0 5 0 2 0 2 0 5 0 2 0 2 0 14 1 50 0-70 0-5 0-2 0-2 0-3 0-2 0-2 0-3 0-2 0-2 0-5 0-45 0-2 1-40 0 29 0 4 0 16 0 9 0 7 0 7 0 4 0 3 0 4 0 2 0 3 0 4 0 2 0 3 0 2 0 2 0 2 0 3 0 2 0 2 0 3 0 2 0 2 0 14 1 0 0-5 0-4 0-3 0-4 0-2 0-3 0-2 0-2 0-3 0-2 0-2 0-2 0-3 0-2 0-2 0-2 0-3 0-2 0-7 0-2 0-32 0-4 1 14 0 27 0 2 0 2 0 2 0 3 0 2 0 2 0 2 0 3 0 2 0 2 0 2 0 3 0 4 0 3 0 2 0 2 0 63 0 5 1-7 0-68 0-2 0-3 0-2 0-2 0-2 0-3 0-2 0-2 0-2 0-5 0-2 0-14 0-34 0-11 0-4 1-61 0 117 0 11 0 3 0 2 0 2 0 2 0 5 0 2 0 2 0 5 0 2 0 2 0 3 0 2 0 2 0 5 1 16 0-16 0-7 0-7 0-7 0-2 0-2 0-2 0-3 0-2 0-2 0-2 0-5 0-7 0-52 1-79 0 86 0 47 0 7 0 2 0 5 0 2 0 2 0 3 0 2 0 2 0 2 0 5 0 2 0 45 0 23 1-5 0-40 0-16 0-11 0-3 0-2 0-2 0-2 0-3 0-2 0-2 0-2 0-3 0-2 0-2 0-2 0-3 0-45 1-86 0 68 0 18 0 36 0 2 0 5 0 2 0 3 0 2 0 2 0 2 0 3 0 2 0 2 0 2 0 3 0 2 0 2 0 2 0 3 0 4 0 2 0 3 0 2 0 4 0 5 1 32 0-29 0-7 0-4 0-5 0-4 0-3 0-2 0-4 0-3 0-2 0-2 0-2 0-3 0-2 0-2 0-2 0-3 0-2 0-2 0-2 0-5 0-34 0-11 1-115 0 101 0 3 0 15 0 14 0 13 0 12 0 2 0 5 0 2 0 2 0 2 0 5 0 2 0 2 0 3 0 2 0 2 0 2 0 3 0 2 0 2 0 2 0 3 0 2 0 2 0 2 0 3 1 11 0-4 0-3 0-7 0-2 0-2 0-2 0-5 0-2 0-2 0-3 0-2 0-2 0-5 0-2 0-2 0-2 0-5 0-2 0-2 0-3 0-2 0-5 0-4 0-7 0-2 1-112 0 86 0 3 0 15 0 3 0 2 0 9 0 4 0 3 0 2 0 2 0 2 0 3 0 2 0 2 0 3 0 2 0 4 0 3 0 2 0 2 0 2 0 3 0 2 0 2 0 2 0 3 0 2 0 2 0 9 0 7 0 2 1-7 0-6 0-7 0-5 0-4 0-2 0-3 0-2 0-2 0-2 0-3 0-4 0-2 0-3 0-2 0-2 0-3 0-2 0-2 0-2 0-3 0-2 0-2 0-7 0-9 0-2 0-2 1-183 0 142 0 20 0 18 0 5 0 2 0 2 0 5 0 2 0 5 0 2 0 4 0 5 0 2 0 5 0 2 0 5 0 2 0 2 0 2 0 3 0 2 0 2 0 2 0 3 0 2 0 2 0 2 0 3 1 20 0-6 0-5 0-2 0-5 0-2 0-2 0-2 0-5 0-2 0-2 0-3 0-2 0-2 0-2 0-3 0-2 0-2 0-2 0-3 0-2 0-2 0-5 0-2 0-2 0-5 0-2 0-2 0-5 0-2 0-2 0-9 0-23 0-14 0-9 1-2 0 29 0 19 0 2 0 2 0 9 0 2 0 5 0 2 0 2 0 3 0 2 0 2 0 2 0 3 0 2 0 2 0 3 0 2 0 2 0 2 0 3 0 2 0 2 0 2 0 3 0 2 0 2 0 2 0 5 0 2 0 7 0 20 1-4 0-16 0-5 0-2 0-4 0-3 0-2 0-2 0-2 0-3 0-2 0-2 0-2 0-3 0-2 0-2 0-2 0-3 0-2 0-2 0-3 0-2 0-2 0-2 0-3 0-2 0-2 0-2 0-3 0-2 0-2 0-2 0-3 0-2 0-2 0-5 0-2 0-11 0-34 0-120 1-16 0 118 0 11 0 54 0 7 0 3 0 2 0 13 0 3 0 4 0 2 0 3 0 2 0 2 0 2 0 3 0 2 0 2 0 2 0 3 0 2 0 2 0 2 0 5 0 2 0 34 1-25 0-6 0-5 0-2 0-3 0-2 0-2 0-2 0-3 0-2 0-2 0-2 0-3 0-2 0-2 0-2 0-3 0-2 0-2 0-2 0-5 0-4 0-7 0-2 0-7 1-21 0 32 0 2 0 3 0 2 0 2 0 2 0 3 0 2 0 4 0 3 0 2 0 2 0 2 0 3 0 2 0 2 0 2 0 3 0 2 0 2 0 2 0 3 0 4 0 3 0 2 0 50 1-30 0-9 0-2 0-16 0-4 0-3 0-2 0-2 0-2 0-3 0-2 0-2 0-2 0-3 0-4 0-3 0-4 0-2 0-3 0-2 0-2 0-2 0-3 0-2 0-2 0-2 0-59 0-91 1 147 0 3 0 2 0 2 0 2 0 5 0 4 0 7 0 2 0 3 0 2 0 2 0 3 0 2 0 2 0 2 0 3 0 2 0 2 0 5 0 2 0 2 0 2 0 5 0 2 0 2 0 3 1 11 0-11 0-9 0-3 0-2 0-2 0-2 0-3 0-2 0-2 0-2 0-3 0-2 0-2 0-2 0-3 0-2 0-2 0-3 0-4 0-7 0-2 0-5 0-2 0-2 0-181 1 187 0 4 0 5 0 2 0 2 0 3 0 2 0 4 0 3 0 2 0 2 0 7 0 2 0 5 0 2 0 2 0 3 0 2 0 4 0 3 0 6 0 3 0 2 0 2 0 7 0 25 1 7 0-25 0-3 0-2 0-9 0-2 0-2 0-3 0-2 0-2 0-2 0-3 0-2 0-2 0-2 0-3 0-2 0-2 0-3 0-2 0-2 0-2 0-3 0-2 0-2 0-2 0-5 0-4 0-5 0-61 0-138 1 158 0 16 0 27 0 3 0 4 0 5 0 2 0 2 0 5 0 2 0 2 0 2 0 3 0 2 0 2 0 3 0 2 0 4 0 3 0 4 0 7 0 2 0 9 0 5 1-9 0-4 0-5 0-2 0-2 0-2 0-3 0-2 0-2 0-2 0-3 0-2 0-2 0-2 0-3 0-2 0-2 0-3 0-2 0-2 0-7 0-2 0-2 0-3 0-9 0-2 0-7 0-13 0-5 0-88 1 32 0 40 0 37 0 9 0 4 0 2 0 5 0 2 0 2 0 3 0 4 0 7 0 5 0 2 0 2 0 2 0 3 0 2 0 2 0 2 0 3 0 2 1-5 0-6 0-3 0-2 0-2 0-2 0-3 0-2 0-2 0-3 0-2 0-2 0-5 0-2 0-2 0-2 0-5 0-11 0-2 0-19 0-97 1 79 0 18 0 13 0 12 0 9 0 2 0 7 0 4 0 2 0 3 0 2 0 2 0 2 0 3 0 2 0 2 0 3 0 2 0 2 0 2 0 3 0 2 0 2 0 2 0 3 0 4 1 18 0-16 0-6 0-3 0-2 0-4 0-3 0-2 0-2 0-2 0-5 0-5 0-2 0-4 0-5 0-4 0-5 0-2 0-11 0-3 0-25 0-92 1 95 0 47 0 7 0 4 0 3 0 2 0 2 0 3 0 2 0 2 0 2 0 3 0 2 0 2 0 2 0 5 0 4 1 40 0-18 0-19 0-2 0-9 0-4 0-3 0-2 0-2 0-2 0-3 0-2 0-2 0-2 0-3 0-4 0-9 0-3 0-2 0-138 1 134 0 18 0 2 0 5 0 2 0 2 0 2 0 3 0 2 0 2 0 2 0 5 0 4 0 9 0 23 1-7 0-16 0-4 0-2 0-3 0-2 0-2 0-2 0-3 0-2 0-2 0-2 0-3 0-2 0-2 0-2 0-3 0-2 0-2 0-2 0-3 0-2 0-5 0-4 0-32 1-107 0 95 0 36 0 9 0 5 0 7 0 2 0 2 0 3 0 2 0 2 0 5 0 2 0 2 0 2 0 3 0 2 0 4 0 3 0 2 0 2 1 9 0-11 0-2 0-3 0-2 0-2 0-2 0-3 0-2 0-2 0-2 0-3 0-2 0-2 0-2 0-7 0-30 0-6 1-116 0 163 0 5 0 2 0 2 0 2 0 3 0 2 0 2 0 2 0 3 0 2 1 5 0-3 0-2 0-2 0-3 0-2 0-2 0-2 0-3 0-2 0-2 0-2 0-3 0-4 0-2 0-3 0-4 1-170 0 129 0 14 0 9 0 4 0 21 0 2 0 2 0 2 0 3 0 6 0 3 0 2 0 2 0 2 0 3 0 2 0 2 0 5 0 13 1-15 0-5 0-2 0-3 0-2 0-2 0-2 0-3 0-2 0-2 0-2 0-3 0-34 1-82 0 65 0 25 0 14 0 18 0 4 0 2 0 3 0 2 0 2 0 2 0 3 0 2 0 18 0 2 0 16 0 23 1 0 0-5 0-22 0-5 0-2 0-2 0-9 0-5 0-2 0-2 0-5 0-5 0-2 0-2 0-2 0-3 0-2 0-2 0-2 0-18 1-86 0 108 0 2 0 3 0 2 0 2 0 2 0 3 0 2 0 5 0 18 0 6 0 12 1 15 0-36 0-5 0-2 0-2 0-5 0-2 0-2 0-3 0-2 0-2 0-2 0-3 0-2 0-2 0-2 0-3 0-2 0-36 0-2 0-21 1-40 0 49 0 48 0 2 0 2 0 3 0 2 0 2 0 2 0 3 0 2 0 4 0 3 0 13 0 7 0 9 0 9 1 20 0-22 0-2 0-7 0-3 0-2 0-2 0-5 0-2 0-13 0-3 0-4 0-5 0-2 0-2 0-2 0-5 0-4 0-14 1-147 0 160 0 9 0 3 0 2 0 2 0 3 0 2 0 2 0 2 0 3 0 2 0 2 0 2 0 3 0 2 0 4 0 9 0 3 0 4 0 7 1 0 0-9 0-7 0-11 0-7 0-4 0-3 0-2 0-2 0-2 0-3 0-2 1-72 0 58 0 9 0 5 0 2 0 3 0 4 0 2 0 3 0 2 0 2 0 16 1 43 0-21 0-11 0-22 0-3 0-2 0-2 0-3 0-2 0-2 0-2 0-3 0-2 0-2 0-2 0-3 0-4 0-68 1-52 0 120 0 7 0 2 0 2 0 2 0 3 0 4 0 2 0 3 0 2 0 2 0 9 0 23 0 4 0 9 0 7 1-16 0-18 0-2 0-4 0-3 0-2 0-2 0-2 0-5 0-2 0-3 0-2 0-2 0-2 0-3 0-2 0-7 0-22 0-2 1-93 0 5 0 104 0 2 0 13 0 3 0 2 0 2 0 2 0 3 0 2 0 2 0 2 0 3 0 2 0 5 0 2 0 16 0 4 0 2 0 3 1-3 0-4 0-18 0-5 0-2 0-2 0-3 0-2 0-2 0-2 0-3 0-2 0-2 0-2 0-3 0-11 0-52 1-72 0 31 0 43 0 34 0 30 0 2 0 2 0 2 0 3 0 2 0 2 0 2 0 3 0 2 0 2 0 3 0 11 0 2 0 9 1 3 0-23 0-4 0-9 0-3 0-4 0-3 0-2 0-2 0-2 0-3 0-2 0-2 0-2 0-3 0-6 0-102 1 41 0 67 0 5 0 7 0 4 0 2 0 3 0 2 0 2 0 3 0 2 0 2 0 9 0 2 0 5 0 2 0 5 0 2 0 2 0 2 1 16 0-18 0-4 0-3 0-2 0-2 0-2 0-5 0-4 0-3 0-6 0-7 0-3 0-4 0-2 0-3 0-2 0-2 0-5 0-2 0-108 1 121 0 2 0 3 0 2 0 2 0 2 0 3 0 2 0 11 0 14 1 9 0-2 0-16 0-2 0-12 0-7 0-2 0-4 0-3 0-6 0-107 1 84 0 11 0 14 0 2 0 2 0 3 0 2 0 2 0 2 0 3 0 2 0 2 0 2 0 3 0 4 0 5 0 9 0 7 1-2 0-5 0-9 0-2 0-2 0-2 0-3 0-2 0-4 0-3 0-2 0-2 0-2 0-3 0-6 0-111 1 104 0 2 0 2 0 3 0 2 0 2 0 2 0 3 0 2 0 2 0 2 0 3 0 2 0 2 0 5 0 2 0 4 0 3 0 13 1 12 0-23 0-2 0-3 0-2 0-2 0-5 0-2 0-2 0-2 0-3 0-2 0-2 0-2 0-5 0-2 0-2 0-3 0-2 0-2 0-2 0-3 0-4 0-39 0-2 0-72 1 112 0 14 0 2 0 4 0 3 0 2 0 2 0 2 0 3 0 2 0 2 0 2 0 5 0 2 0 3 0 2 1 0 0-12 0-2 0-2 0-2 0-3 0-2 0-2 0-2 0-3 0-2 0-2 0-2 0-21 0-18 1 34 0 2 0 3 0 2 0 2 0 2 0 3 0 2 0 2 0 2 0 3 0 2 0 2 0 5 0 2 0 7 0 43 1-54 0-5 0-4 0-5 0-2 0-2 0-3 0-2 0-52 0-81 1 95 0 38 0 2 0 3 0 4 0 2 0 3 0 2 0 2 0 12 0 4 1 18 0-38 0-3 0-2 0-2 0-2 0-3 0-2 0-2 0-2 0-3 0-2 0-2 0-2 0-107 1 80 0 13 0 12 0 6 0 3 0 2 0 2 0 2 0 3 0 2 0 2 0 5 0 2 0 2 0 16 0 7 0 7 0 22 1-40 0-7 0-5 0-2 0-2 0-5 0-2 0-2 0-5 0-2 0-5 0-36 0-7 0-2 0-99 1 142 0 2 0 5 0 4 0 3 0 2 0 2 0 2 0 3 0 4 0 7 0 7 1-7 0-5 0-2 0-2 0-2 0-3 0-2 0-2 0-2 0-3 0-4 0-2 0-3 0-9 1-126 0 128 0 5 0 2 0 5 0 4 0 3 0 2 0 2 0 2 0 3 0 2 0 4 0 3 0 2 0 2 0 2 0 3 0 38 1-45 0-5 0-2 0-2 0-2 0-3 0-4 0-2 0-5 0-2 0-2 0-10 0-2 0-13 1-89 0 106 0 3 0 2 0 2 0 2 0 3 0 2 0 2 0 2 0 3 0 2 0 2 0 3 0 2 0 2 0 2 0 3 1 49 0-52 0-4 0-2 0-3 0-2 0-5 0-2 0-2 0-2 0-9 0-5 0-4 1-104 0 101 0 7 0 2 0 3 0 2 0 2 0 5 0 2 0 2 0 2 0 3 0 2 0 2 0 3 0 4 0 9 0 2 1-3 0-5 0-2 0-2 0-3 0-2 0-2 0-2 0-3 0-2 0-2 0-2 0-3 0-4 0-12 0-43 1-72 0 70 0 48 0 2 0 9 0 7 0 2 0 2 0 3 0 2 0 2 0 5 0 2 1 36 0-2 0-3 0-2 0-2 0-2 0-3 0-2 0-2 0-2 0-3 0-2 0-2 0-5 0-2 0-2 0-2 0-3 0-4 0-2 0-3 0-2 0-75 1-81 0 138 0 14 0 4 0 5 0 2 0 4 0 3 0 2 0 2 0 43 1-41 0-2 0-4 0-3 0-2 0-2 0-2 0-3 0-4 0-27 1-118 0 133 0 7 0 5 0 2 0 2 0 3 0 2 0 2 0 2 0 3 0 2 0 4 1 45 0-34 0-6 0-7 0-7 0-2 0-2 0-3 0-2 0-2 0-2 0-3 0-4 0-3 1-110 0 68 0 42 0 10 0 2 0 2 0 2 0 3 0 2 0 2 0 2 0 3 0 2 0 11 0 39 1-14 0-23 0-2 0-13 0-3 0-2 0-2 0-2 0-3 0-2 0-2 0-2 0-3 0-2 0-5 1-29 0 25 0 9 0 4 0 3 0 2 0 4 0 3 0 2 0 2 0 2 0 5 0 2 0 5 0 4 0 36 1-49 0-7 0-2 0-3 0-2 0-2 0-2 0-3 0-2 0-2 0-9 0-50 0-79 1-7 0 102 0 41 0 2 0 2 0 2 0 3 0 2 0 2 0 2 0 3 0 2 0 2 0 2 0 3 0 2 1 16 0-4 0-5 0-4 0-5 0-2 0-2 0-3 0-2 0-2 0-2 0-5 0-2 0-3 0-6 0-9 0-16 1 18 0 7 0 2 0 4 0 3 0 2 0 2 0 3 0 2 0 2 0 2 0 5 0 2 0 2 1 5 0-7 0-7 0-2 0-2 0-2 0-3 0-2 0-2 0-3 0-2 0-4 0-5 0-4 0-3 0-43 0-94 1 132 0 16 0 3 0 2 0 2 0 2 0 3 0 2 0 2 0 5 0 2 0 2 0 2 0 3 0 2 0 2 0 2 1-4 0-5 0-4 0-2 0-3 0-2 0-4 0-3 0-2 0-2 0-5 0-4 0-3 0-137 1 113 0 4 0 20 0 3 0 4 0 5 0 2 0 2 0 3 0 2 0 2 0 2 0 3 0 2 0 2 0 2 0 3 0 2 0 2 0 2 0 3 0 2 0 2 0 2 0 3 0 2 0 2 0 5 0 7 1 11 0-43 0-9 0-2 0-5 0-2 0-2 0-2 0-3 0-2 0-2 0-5 0-9 0-58 0-39 1 97 0 7 0 2 0 3 0 2 0 2 0 2 0 3 0 2 0 2 0 2 0 3 0 2 0 2 0 52 1-40 0-9 0-3 0-2 0-2 0-3 0-2 0-2 0-2 0-3 0-2 0-4 0-3 0-2 0-147 1 86 0 68 0 2 0 2 0 3 0 2 0 2 0 2 0 3 0 2 0 2 1 27 0-22 0-5 0-2 0-2 0-3 0-2 0-2 0-5 0-2 0-7 0-2 0-25 0-41 0-70 1 102 0 2 0 14 0 13 0 3 0 4 0 7 0 5 0 2 0 2 0 2 0 3 0 2 0 2 0 2 0 3 0 2 0 4 1 3 0-9 0-2 0-3 0-2 0-2 0-2 0-3 0-2 0-2 0-2 0-3 0-2 0-5 0-2 0-49 0-104 1 142 0 9 0 4 0 3 0 2 0 7 0 4 0 3 0 2 0 2 0 2 0 3 0 4 0 2 0 3 0 2 1 16 0-5 0-11 0-2 0-3 0-4 0-2 0-3 0-2 0-2 0-2 0-3 0-2 0-2 0-2 0-3 0-2 0-2 0-3 0-2 0-7 0-108 1 104 0 4 0 9 0 2 0 3 0 2 0 2 0 2 0 3 0 4 0 3 0 4 0 2 0 5 0 2 0 2 0 5 1 2 0-4 0-5 0-2 0-2 0-3 0-4 0-2 0-3 0-2 0-2 0-3 0-2 0-2 0-2 0-3 0-2 0-9 0-131 1 122 0 5 0 2 0 2 0 2 0 3 0 2 0 2 0 2 0 3 0 2 0 2 0 2 0 3 0 2 0 2 0 3 0 2 0 2 1 18 0-4 0-5 0-4 0-7 0-2 0-3 0-2 0-2 0-2 0-5 0-2 0-2 0-3 0-4 0-2 0-3 0-6 0-5 0-25 0-20 0-52 1 99 0 7 0 2 0 3 0 2 0 2 0 2 0 3 0 4 0 2 0 3 0 4 0 2 0 5 0 2 0 3 0 24 1-4 0-7 0-7 0-6 0-3 0-2 0-2 0-3 0-2 0-2 0-2 0-3 0-2 0-2 0-2 0-3 0-2 0-13 0-5 0-2 0-2 0-93 1 103 0 7 0 2 0 2 0 3 0 2 0 2 0 2 0 3 0 2 0 2 0 2 0 5 0 2 0 5 0 2 0 7 0 9 1 38 0-4 0-30 0-6 0-3 0-2 0-2 0-3 0-2 0-2 0-5 0-2 0-4 0-3 0-2 0-2 0-2 0-3 0-2 0-2 0-2 0-3 0-2 0-2 0-2 0-3 1-117 0 104 0 9 0 2 0 2 0 3 0 4 0 2 0 3 0 2 0 2 0 2 0 3 0 2 0 2 0 2 0 7 0 5 0 4 0 5 0 56 1-29 0-13 0-21 0-2 0-2 0-2 0-3 0-2 0-4 0-5 0-2 0-2 0-3 0-2 0-2 0-5 0-4 0-5 0-11 1-127 0 118 0 13 0 7 0 5 0 2 0 2 0 3 0 4 0 2 0 3 0 2 0 2 0 2 0 3 0 2 0 2 0 2 0 3 0 2 0 2 1 14 0-5 0-4 0-3 0-2 0-2 0-2 0-3 0-2 0-2 0-2 0-3 0-2 0-2 0-2 0-3 0-2 0-2 0-2 0-3 0-6 0-10 0-4 1-95 0 58 0 3 0 36 0 7 0 4 0 7 0 2 0 5 0 2 0 4 0 5 0 2 0 3 0 2 0 2 0 2 0 3 0 2 0 2 0 2 0 5 0 9 0 38 1-40 0-7 0-7 0-2 0-5 0-2 0-2 0-2 0-3 0-2 0-2 0-3 0-2 0-2 0-2 0-3 0-4 0-9 0-2 0-5 1-129 0 97 0 50 0 2 0 3 0 4 0 2 0 3 0 2 0 2 0 3 0 2 0 2 0 5 0 2 0 2 0 2 0 3 1 50 0-32 0-7 0-4 0-9 0-2 0-3 0-2 0-2 0-2 0-3 0-2 0-2 0-2 0-3 0-2 0-2 0-5 0-4 0-12 0-6 0-3 0-27 1-126 0 174 0 4 0 2 0 3 0 2 0 2 0 3 0 2 0 2 0 2 0 3 0 2 0 2 0 2 0 3 0 2 0 2 0 2 0 5 0 4 1 0 0-11 0-2 0-2 0-5 0-2 0-2 0-5 0-2 0-2 0-3 0-2 0-2 0-3 0-2 0-4 0-5 0-27 1-122 0 117 0 39 0 4 0 2 0 5 0 2 0 2 0 3 0 2 0 2 0 2 0 5 0 2 0 9 0 36 1-20 0-2 0-21 0-2 0-4 0-3 0-2 0-2 0-2 0-3 0-2 0-2 0-2 0-3 0-2 0-2 0-2 0-7 0-48 1-83 0 124 0 11 0 3 0 2 0 4 0 5 0 2 0 2 0 3 0 2 0 4 0 3 0 2 0 7 0 2 0 7 1 2 0-2 0-2 0-9 0-5 0-2 0-2 0-3 0-2 0-2 0-2 0-3 0-2 0-4 0-28 0-31 1-52 0 106 0 2 0 3 0 2 0 2 0 2 0 5 0 2 0 2 0 3 0 2 0 4 0 3 0 2 0 2 0 9 0 3 0 29 1-32 0-7 0-2 0-7 0-2 0-4 0-3 0-2 0-4 0-3 0-2 0-2 0-2 0-3 0-6 0-3 0-7 0-9 0-6 0-9 1-21 0 7 0 36 0 13 0 3 0 2 0 2 0 3 0 2 0 2 0 2 0 3 0 2 0 4 0 3 0 2 0 2 0 30 1 20 0-52 0-2 0-7 0-2 0-3 0-2 0-2 0-2 0-3 0-9 0-13 0-30 0-16 0-15 1 29 0 43 0 2 0 7 0 2 0 3 0 2 0 2 0 7 0 2 0 18 0 25 0 7 1-43 0-2 0-9 0-2 0-3 0-2 0-2 0-2 0-3 0-4 0-2 0-14 0-18" fill="none" stroke="none" marker-start="url(#o)" marker-mid="url(#o)" marker-end="url(#o)"/>
<path d="M171.5 106V558.5H804M171.50 558.5v9M234.80 558.5v5M298.10 558.5v9M361.40 558.5v5M424.70 558.5v9M488.00 558.5v5M551.30 558.5v9M614.60 558.5v5M677.90 558.5v9M741.20 558.5v5M804.50 558.5v9M171.5 558.50h-9M171.5 502.00h-6M171.5 445.50h-9M171.5 389.00h-6M171.5 332.50h-9M171.5 276.00h-6M171.5 219.50h-9M171.5 163.00h-6M171.5 106.50h-9" stroke="#222" stroke-width="1" fill="none"/>
<g font-size="18"><text x="159" y="565.0" text-anchor="end">0.0</text><text x="159" y="452.0" text-anchor="end">0.5</text><text x="159" y="339.0" text-anchor="end">1.0</text><text x="159" y="226.0" text-anchor="end">1.5</text><text x="159" y="113.0" text-anchor="end">2.0</text><text x="171.5" y="585.5" text-anchor="middle">0</text><text x="298.1" y="585.5" text-anchor="middle">5</text><text x="424.7" y="585.5" text-anchor="middle">10</text><text x="551.3" y="585.5" text-anchor="middle">15</text><text x="677.9" y="585.5" text-anchor="middle">20</text><text x="804.5" y="585.5" text-anchor="middle">25</text><text x="488.5" y="71" text-anchor="middle" font-size="20">Record:&#160; e062a</text><text x="488" y="636" text-anchor="middle" font-size="20">Time (hour)</text><text transform="translate(100 332) rotate(-90)" text-anchor="middle" font-size="20">RR Interval (second)</text></g>
</svg>
</body></html>
